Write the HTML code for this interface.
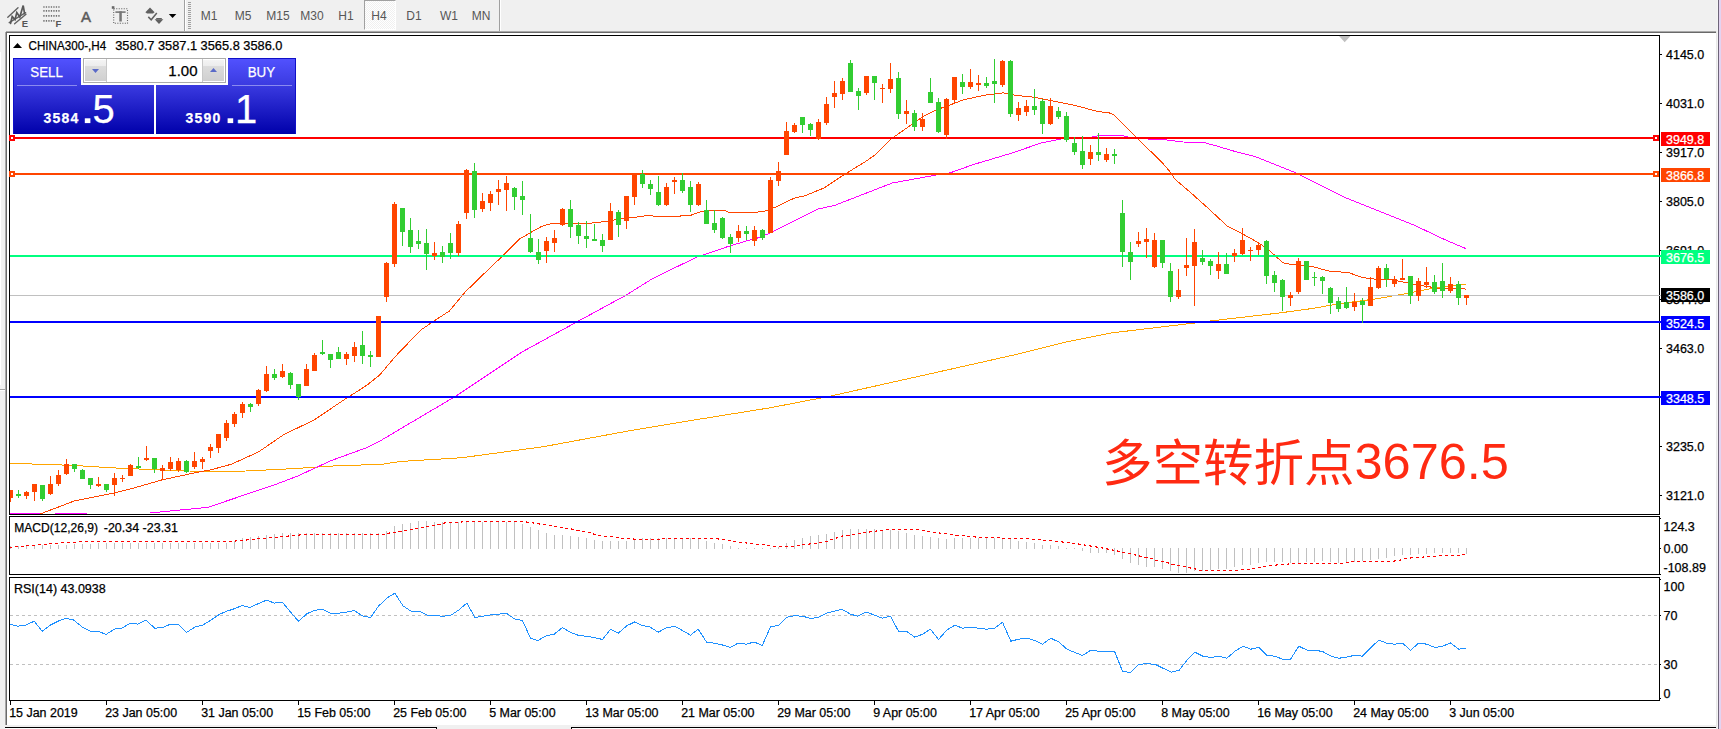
<!DOCTYPE html>
<html><head><meta charset="utf-8"><title>CHINA300-,H4</title>
<style>
html,body{margin:0;padding:0;background:#fff;}
body{width:1721px;height:729px;overflow:hidden;position:relative;font-family:"Liberation Sans","Noto Sans CJK SC",sans-serif;}
svg{position:absolute;left:0;top:0;}
svg text{font-family:"Liberation Sans","Noto Sans CJK SC",sans-serif;}
#tb{position:absolute;left:0;top:0;width:1721px;height:31px;background:#f0f0f0;}
.tf{position:absolute;top:7.9px;font-size:12px;color:#565656;width:40px;text-align:center;line-height:16px;}
#note{position:absolute;left:1102px;top:427.5px;font-size:50.5px;line-height:72px;color:#ff2a12;white-space:nowrap;font-family:"Liberation Sans","Noto Sans CJK SC",sans-serif;}
</style></head>
<body>
<div id="tb"></div>
<div id="leftstrip" style="position:absolute;left:0;top:31px;width:6px;height:698px;background:#f0f0f0"></div>
<div style="position:absolute;left:0;top:52px;width:1px;height:333px;background:#fff"></div>
<div style="position:absolute;left:0;top:389px;width:5px;height:1px;background:#a0a0a0"></div>
<div style="position:absolute;left:0;top:390px;width:5px;height:1px;background:#fff"></div>
<!-- timeframe buttons -->
<div style="position:absolute;left:364px;top:0;width:32px;height:30px;background:repeating-conic-gradient(#ffffff 0% 25%, #f0f0f0 0% 50%) 0 0/2px 2px;border-left:1px solid #a0a0a0;border-top:1px solid #a0a0a0;box-sizing:border-box;border-right:1px solid #fff;border-bottom:1px solid #fff"></div>
<div class="tf" style="left:189px">M1</div>
<div class="tf" style="left:223px">M5</div>
<div class="tf" style="left:258px">M15</div>
<div class="tf" style="left:292px">M30</div>
<div class="tf" style="left:326px">H1</div>
<div class="tf" style="left:359px">H4</div>
<div class="tf" style="left:394px">D1</div>
<div class="tf" style="left:429px">W1</div>
<div class="tf" style="left:461px">MN</div>

<svg width="1721" height="729" viewBox="0 0 1721 729" shape-rendering="crispEdges">
<!-- toolbar bottom edge and window frame -->
<rect x="6" y="31" width="1711" height="1" fill="#a9a9a9"/>
<rect x="6" y="32" width="1711" height="1" fill="#696969"/>
<rect x="5" y="32" width="1" height="693" fill="#a8a8a8"/><rect x="6" y="32" width="1" height="693" fill="#6a6a6a"/>
<rect x="7" y="33" width="1709" height="692" fill="#fff"/>
<rect x="0" y="725" width="1717" height="2" fill="#f0f0f0"/>
<rect x="5" y="727" width="432" height="1" fill="#000"/>
<rect x="571" y="727" width="1146" height="1" fill="#000"/>
<rect x="5" y="728" width="432" height="1" fill="#fff"/>
<rect x="571" y="728" width="1146" height="1" fill="#fff"/>
<rect x="437" y="727" width="134" height="2" fill="#f0f0f0"/>
<rect x="436" y="727" width="1" height="2" fill="#000"/>
<rect x="571" y="727" width="1" height="2" fill="#000"/>
<!-- right window edge -->
<rect x="1716" y="0" width="1" height="729" fill="#e8e8e8"/>
<rect x="1717" y="0" width="1" height="729" fill="#f4f4f4"/>
<rect x="1718" y="0" width="1" height="729" fill="#6d6479"/>
<rect x="1719" y="0" width="2" height="729" fill="#e3d3f1"/>
<rect x="1716" y="0" width="1" height="31" fill="#f0f0f0"/>
<!-- toolbar separators -->
<rect x="184" y="0" width="1" height="31" fill="#a0a0a0"/>
<rect x="185" y="0" width="1" height="31" fill="#ffffff"/>
<rect x="499" y="0" width="1" height="31" fill="#a0a0a0"/>
<rect x="500" y="0" width="1" height="31" fill="#ffffff"/>
<g fill="#a0a0a0"><rect x="188" y="2" width="3" height="1"/><rect x="188" y="4" width="3" height="1"/><rect x="188" y="6" width="3" height="1"/><rect x="188" y="8" width="3" height="1"/><rect x="188" y="10" width="3" height="1"/><rect x="188" y="12" width="3" height="1"/><rect x="188" y="14" width="3" height="1"/><rect x="188" y="16" width="3" height="1"/><rect x="188" y="18" width="3" height="1"/><rect x="188" y="20" width="3" height="1"/><rect x="188" y="22" width="3" height="1"/><rect x="188" y="24" width="3" height="1"/><rect x="188" y="26" width="3" height="1"/><rect x="188" y="28" width="3" height="1"/></g>

<!-- toolbar icons -->
<g shape-rendering="auto" stroke="#606060" stroke-width="1.35" fill="none" stroke-linecap="round">
<line x1="7.8" y1="17.3" x2="18" y2="7.8"/>
<line x1="9.2" y1="22.6" x2="25.6" y2="12.6"/>
<line x1="14.6" y1="23.8" x2="26" y2="14.2"/>
<polyline points="10.6,23.4 12.2,16.6 15,19.6 16.8,12.6 19.8,17 23.2,5.6 24.6,13.6" stroke-width="1.7" stroke="#585858"/>
</g>
<text x="21.8" y="26.6" font-size="9.5" font-weight="bold" fill="#555">E</text>
<g shape-rendering="auto" stroke="#707070" stroke-width="1.6" stroke-dasharray="1.3 1.2" fill="none">
<line x1="43.3" y1="7" x2="60.4" y2="7"/>
<line x1="43.3" y1="10.9" x2="60.4" y2="10.9"/>
<line x1="43.3" y1="15.9" x2="60.4" y2="15.9"/>
<line x1="43.3" y1="20.9" x2="55.4" y2="20.9"/>
</g>
<text x="55.6" y="26.6" font-size="9.5" font-weight="bold" fill="#555">F</text>
<text x="86" y="21.7" font-size="15" fill="#5a5a5a" stroke="#5a5a5a" stroke-width="0.5" text-anchor="middle">A</text>
<g shape-rendering="auto">
<rect x="113.7" y="8.7" width="13.8" height="14.6" fill="none" stroke="#666" stroke-width="1.1" stroke-dasharray="1.1 1.4"/>
<rect x="111.8" y="6.2" width="2.6" height="2.6" fill="#666"/>
<rect x="115.4" y="11.3" width="10.2" height="1.6" fill="#777"/>
<rect x="119.3" y="11.3" width="2.5" height="10.2" fill="#777"/>
<polygon points="150,7.4 154.6,12.2 153,13.6 147,13.6 145.4,12.2" fill="#606060"/>
<polygon points="154.6,19.2 163.4,19.2 159,24" fill="#606060"/>
<polygon points="156.2,18 161.8,18 161.8,19.4 156.2,19.4" fill="#606060"/>
<polyline points="148.3,16.9 151.2,19.8 156.8,13" fill="none" stroke="#606060" stroke-width="1.5"/>
<polygon points="168.8,14 176.3,14 172.55,18.1" fill="#000"/>
</g>
<!-- horizontal levels -->
<!-- MAs -->
<g>
<polyline points="10.0,463.4 32.0,464.0 55.0,464.7 87.0,466.2 106.0,467.5 128.0,468.6 150.0,469.4 169.0,470.5 189.0,471.0 208.0,471.5 245.7,471.0 294.6,468.6 342.0,465.4 380.0,464.6 400.0,461.5 462.0,457.7 544.0,446.6 632.4,430.2 695.5,419.8 770.0,407.8 827.6,396.7 934.6,372.8 1016.9,354.3 1066.3,341.9 1111.6,332.9 1198.0,322.6 1214.4,320.5 1280.0,312.9 1311.5,308.6 1343.1,303.1 1374.6,299.1 1406.2,293.6 1437.7,287.3 1461.4,284.6 1466.1,284.5" fill="none" stroke="#FFA500" stroke-width="1" />
<polyline points="150.0,513.0 208.0,507.3 275.7,484.4 297.8,476.0 330.9,460.7 365.6,448.1 380.0,441.0 400.0,429.1 455.7,396.2 522.0,352.0 575.6,322.6 626.0,295.2 651.3,279.4 661.0,274.4 697.2,257.0 705.1,254.3 727.2,246.8 750.0,239.9 759.5,237.5 770.5,232.8 817.8,209.1 835.2,205.2 892.0,183.1 939.3,174.4 950.0,172.9 973.9,164.4 1011.0,153.3 1040.9,143.1 1061.5,138.8 1090.0,138.0 1093.8,136.4 1102.5,135.2 1118.2,135.2 1126.9,136.4 1130.0,138.0 1151.5,139.2 1167.3,140.0 1183.0,142.0 1203.5,142.4 1217.7,146.3 1233.5,151.0 1255.6,156.7 1296.7,173.2 1346.1,197.9 1387.3,214.4 1415.6,225.8 1445.6,240.0 1466.1,248.7" fill="none" stroke="#FF00FF" stroke-width="1" />
<polyline points="40.3,513.9 74.2,501.0 110.5,493.8 134.0,488.0 162.6,479.7 181.5,475.7 200.0,471.7 209.5,470.2 231.5,464.2 258.4,452.0 283.6,434.7 313.6,420.2 346.7,398.1 367.2,385.0 380.0,374.7 394.2,357.7 407.7,343.6 421.0,329.9 434.5,320.7 449.4,311.0 465.2,292.0 484.1,273.6 504.0,254.6 519.8,238.9 529.3,233.3 541.9,226.2 553.0,223.1 570.0,223.1 591.5,223.1 607.3,221.2 623.0,218.4 638.9,216.8 648.3,215.2 654.6,216.3 676.7,216.3 690.9,215.2 702.0,211.3 711.4,210.2 724.0,210.2 730.3,212.8 749.3,212.8 763.4,211.5 776.8,206.8 794.2,198.1 805.2,195.7 824.1,187.9 844.6,174.4 865.1,161.8 876.2,154.1 892.0,138.3 907.7,127.3 923.5,116.2 936.1,109.9 949.5,105.2 963.7,99.7 985.7,95.0 1003.1,92.9 1015.7,95.4 1034.6,97.3 1050.4,100.5 1074.1,105.2 1097.7,111.5 1110.3,113.1 1114.3,115.1 1126.1,127.3 1135.7,136.8 1162.5,162.9 1170.4,172.3 1175.1,179.4 1190.9,192.8 1206.7,207.0 1227.8,226.5 1242.0,233.6 1257.7,242.3 1267.2,248.6 1283.0,262.8 1289.5,264.1 1311.5,266.3 1330.5,271.5 1347.8,272.3 1362.0,277.5 1374.6,279.1 1390.4,279.4 1406.2,282.6 1422.0,285.7 1437.7,288.1 1453.5,288.1 1463.8,288.1 1466.1,289.7" fill="none" stroke="#FF4500" stroke-width="1" />
</g>
<rect x="10" y="513" width="30" height="1" fill="#FF00FF"/><rect x="55" y="513" width="32" height="1" fill="#FF00FF"/>
<rect x="10" y="295" width="1649" height="1" fill="#c0c0c0"/>
<rect x="10" y="137" width="1649" height="2" fill="#FF0000"/><rect x="10" y="173" width="1649" height="2" fill="#FF4500"/><rect x="10" y="255" width="1649" height="2" fill="#00FF7F"/><rect x="10" y="321" width="1649" height="2" fill="#0000FF"/><rect x="10" y="396" width="1649" height="2" fill="#0000FF"/>
<!-- candles -->
<rect x="10" y="490" width="1" height="12" fill="#FF4500"/><rect x="10" y="490" width="3" height="8" fill="#FF4500"/><rect x="18" y="490" width="1" height="8" fill="#32CD32"/><rect x="16" y="494" width="5" height="2" fill="#32CD32"/><rect x="26" y="491" width="1" height="8" fill="#FF4500"/><rect x="24" y="492" width="5" height="4" fill="#FF4500"/><rect x="34" y="484" width="1" height="17" fill="#FF4500"/><rect x="32" y="484" width="5" height="8" fill="#FF4500"/><rect x="42" y="485" width="1" height="16" fill="#32CD32"/><rect x="40" y="485" width="5" height="14" fill="#32CD32"/><rect x="50" y="476" width="1" height="19" fill="#FF4500"/><rect x="48" y="484" width="5" height="10" fill="#FF4500"/><rect x="58" y="470" width="1" height="16" fill="#FF4500"/><rect x="56" y="475" width="5" height="9" fill="#FF4500"/><rect x="66" y="459" width="1" height="16" fill="#FF4500"/><rect x="64" y="464" width="5" height="10" fill="#FF4500"/><rect x="74" y="464" width="1" height="8" fill="#32CD32"/><rect x="72" y="464" width="5" height="5" fill="#32CD32"/><rect x="82" y="469" width="1" height="10" fill="#32CD32"/><rect x="80" y="470" width="5" height="9" fill="#32CD32"/><rect x="90" y="478" width="1" height="11" fill="#32CD32"/><rect x="88" y="478" width="5" height="7" fill="#32CD32"/><rect x="98" y="477" width="1" height="10" fill="#FF4500"/><rect x="96" y="484" width="5" height="2" fill="#FF4500"/><rect x="106" y="484" width="1" height="8" fill="#32CD32"/><rect x="104" y="484" width="5" height="6" fill="#32CD32"/><rect x="114" y="473" width="1" height="23" fill="#FF4500"/><rect x="112" y="478" width="5" height="7" fill="#FF4500"/><rect x="122" y="475" width="1" height="7" fill="#FF4500"/><rect x="120" y="478" width="5" height="1" fill="#FF4500"/><rect x="130" y="464" width="1" height="12" fill="#FF4500"/><rect x="128" y="465" width="5" height="11" fill="#FF4500"/><rect x="138" y="457" width="1" height="12" fill="#32CD32"/><rect x="136" y="466" width="5" height="2" fill="#32CD32"/><rect x="146" y="446" width="1" height="15" fill="#FF4500"/><rect x="144" y="458" width="5" height="2" fill="#FF4500"/><rect x="154" y="458" width="1" height="15" fill="#32CD32"/><rect x="152" y="458" width="5" height="11" fill="#32CD32"/><rect x="162" y="465" width="1" height="15" fill="#FF4500"/><rect x="160" y="468" width="5" height="3" fill="#FF4500"/><rect x="170" y="457" width="1" height="14" fill="#FF4500"/><rect x="168" y="462" width="5" height="7" fill="#FF4500"/><rect x="178" y="458" width="1" height="14" fill="#FF4500"/><rect x="176" y="461" width="5" height="9" fill="#FF4500"/><rect x="186" y="460" width="1" height="13" fill="#32CD32"/><rect x="184" y="461" width="5" height="11" fill="#32CD32"/><rect x="194" y="452" width="1" height="17" fill="#FF4500"/><rect x="192" y="461" width="5" height="6" fill="#FF4500"/><rect x="202" y="457" width="1" height="12" fill="#FF4500"/><rect x="200" y="459" width="5" height="3" fill="#FF4500"/><rect x="210" y="444" width="1" height="14" fill="#FF4500"/><rect x="208" y="447" width="5" height="4" fill="#FF4500"/><rect x="218" y="434" width="1" height="19" fill="#FF4500"/><rect x="216" y="434" width="5" height="14" fill="#FF4500"/><rect x="226" y="420" width="1" height="21" fill="#FF4500"/><rect x="224" y="423" width="5" height="15" fill="#FF4500"/><rect x="234" y="412" width="1" height="15" fill="#FF4500"/><rect x="232" y="414" width="5" height="10" fill="#FF4500"/><rect x="242" y="402" width="1" height="16" fill="#FF4500"/><rect x="240" y="404" width="5" height="9" fill="#FF4500"/><rect x="250" y="403" width="1" height="9" fill="#32CD32"/><rect x="248" y="404" width="5" height="3" fill="#32CD32"/><rect x="258" y="389" width="1" height="17" fill="#FF4500"/><rect x="256" y="390" width="5" height="14" fill="#FF4500"/><rect x="266" y="366" width="1" height="26" fill="#FF4500"/><rect x="264" y="374" width="5" height="17" fill="#FF4500"/><rect x="274" y="369" width="1" height="11" fill="#32CD32"/><rect x="272" y="374" width="5" height="4" fill="#32CD32"/><rect x="282" y="364" width="1" height="14" fill="#FF4500"/><rect x="280" y="371" width="5" height="6" fill="#FF4500"/><rect x="290" y="372" width="1" height="17" fill="#32CD32"/><rect x="288" y="373" width="5" height="12" fill="#32CD32"/><rect x="298" y="384" width="1" height="16" fill="#32CD32"/><rect x="296" y="384" width="5" height="13" fill="#32CD32"/><rect x="306" y="364" width="1" height="22" fill="#FF4500"/><rect x="304" y="369" width="5" height="17" fill="#FF4500"/><rect x="314" y="353" width="1" height="18" fill="#FF4500"/><rect x="312" y="355" width="5" height="16" fill="#FF4500"/><rect x="322" y="340" width="1" height="15" fill="#32CD32"/><rect x="320" y="352" width="5" height="2" fill="#32CD32"/><rect x="330" y="354" width="1" height="14" fill="#32CD32"/><rect x="328" y="354" width="5" height="6" fill="#32CD32"/><rect x="338" y="347" width="1" height="12" fill="#32CD32"/><rect x="336" y="352" width="5" height="7" fill="#32CD32"/><rect x="346" y="352" width="1" height="13" fill="#FF4500"/><rect x="344" y="354" width="5" height="5" fill="#FF4500"/><rect x="354" y="342" width="1" height="20" fill="#FF4500"/><rect x="352" y="347" width="5" height="9" fill="#FF4500"/><rect x="362" y="331" width="1" height="33" fill="#32CD32"/><rect x="360" y="345" width="5" height="11" fill="#32CD32"/><rect x="370" y="351" width="1" height="16" fill="#32CD32"/><rect x="368" y="355" width="5" height="2" fill="#32CD32"/><rect x="378" y="316" width="1" height="41" fill="#FF4500"/><rect x="376" y="316" width="5" height="41" fill="#FF4500"/><rect x="386" y="262" width="1" height="40" fill="#FF4500"/><rect x="384" y="263" width="5" height="34" fill="#FF4500"/><rect x="394" y="202" width="1" height="65" fill="#FF4500"/><rect x="392" y="204" width="5" height="60" fill="#FF4500"/><rect x="402" y="208" width="1" height="38" fill="#32CD32"/><rect x="400" y="208" width="5" height="24" fill="#32CD32"/><rect x="410" y="218" width="1" height="35" fill="#32CD32"/><rect x="408" y="230" width="5" height="17" fill="#32CD32"/><rect x="418" y="230" width="1" height="19" fill="#32CD32"/><rect x="416" y="241" width="5" height="3" fill="#32CD32"/><rect x="426" y="229" width="1" height="41" fill="#32CD32"/><rect x="424" y="243" width="5" height="11" fill="#32CD32"/><rect x="434" y="242" width="1" height="18" fill="#FF4500"/><rect x="432" y="253" width="5" height="3" fill="#FF4500"/><rect x="442" y="246" width="1" height="17" fill="#32CD32"/><rect x="440" y="252" width="5" height="5" fill="#32CD32"/><rect x="450" y="233" width="1" height="26" fill="#32CD32"/><rect x="448" y="243" width="5" height="10" fill="#32CD32"/><rect x="458" y="221" width="1" height="35" fill="#FF4500"/><rect x="456" y="224" width="5" height="29" fill="#FF4500"/><rect x="466" y="169" width="1" height="50" fill="#FF4500"/><rect x="464" y="170" width="5" height="43" fill="#FF4500"/><rect x="474" y="163" width="1" height="55" fill="#32CD32"/><rect x="472" y="171" width="5" height="39" fill="#32CD32"/><rect x="482" y="193" width="1" height="19" fill="#FF4500"/><rect x="480" y="201" width="5" height="8" fill="#FF4500"/><rect x="490" y="191" width="1" height="20" fill="#FF4500"/><rect x="488" y="194" width="5" height="9" fill="#FF4500"/><rect x="498" y="180" width="1" height="25" fill="#FF4500"/><rect x="496" y="189" width="5" height="3" fill="#FF4500"/><rect x="506" y="176" width="1" height="35" fill="#FF4500"/><rect x="504" y="183" width="5" height="7" fill="#FF4500"/><rect x="514" y="187" width="1" height="23" fill="#32CD32"/><rect x="512" y="188" width="5" height="9" fill="#32CD32"/><rect x="522" y="181" width="1" height="34" fill="#32CD32"/><rect x="520" y="196" width="5" height="4" fill="#32CD32"/><rect x="530" y="214" width="1" height="39" fill="#32CD32"/><rect x="528" y="238" width="5" height="14" fill="#32CD32"/><rect x="538" y="239" width="1" height="25" fill="#32CD32"/><rect x="536" y="252" width="5" height="8" fill="#32CD32"/><rect x="546" y="237" width="1" height="26" fill="#FF4500"/><rect x="544" y="241" width="5" height="10" fill="#FF4500"/><rect x="554" y="230" width="1" height="22" fill="#FF4500"/><rect x="552" y="238" width="5" height="5" fill="#FF4500"/><rect x="562" y="208" width="1" height="18" fill="#FF4500"/><rect x="560" y="209" width="5" height="16" fill="#FF4500"/><rect x="570" y="200" width="1" height="38" fill="#32CD32"/><rect x="568" y="209" width="5" height="18" fill="#32CD32"/><rect x="578" y="222" width="1" height="22" fill="#32CD32"/><rect x="576" y="225" width="5" height="11" fill="#32CD32"/><rect x="586" y="221" width="1" height="27" fill="#32CD32"/><rect x="584" y="236" width="5" height="3" fill="#32CD32"/><rect x="594" y="224" width="1" height="17" fill="#32CD32"/><rect x="592" y="239" width="5" height="2" fill="#32CD32"/><rect x="602" y="234" width="1" height="18" fill="#32CD32"/><rect x="600" y="240" width="5" height="6" fill="#32CD32"/><rect x="610" y="203" width="1" height="37" fill="#FF4500"/><rect x="608" y="211" width="5" height="29" fill="#FF4500"/><rect x="618" y="210" width="1" height="27" fill="#32CD32"/><rect x="616" y="212" width="5" height="13" fill="#32CD32"/><rect x="626" y="196" width="1" height="33" fill="#FF4500"/><rect x="624" y="196" width="5" height="25" fill="#FF4500"/><rect x="634" y="174" width="1" height="31" fill="#FF4500"/><rect x="632" y="174" width="5" height="23" fill="#FF4500"/><rect x="642" y="170" width="1" height="18" fill="#32CD32"/><rect x="640" y="174" width="5" height="10" fill="#32CD32"/><rect x="650" y="180" width="1" height="15" fill="#32CD32"/><rect x="648" y="184" width="5" height="5" fill="#32CD32"/><rect x="658" y="176" width="1" height="30" fill="#32CD32"/><rect x="656" y="192" width="5" height="13" fill="#32CD32"/><rect x="666" y="183" width="1" height="23" fill="#FF4500"/><rect x="664" y="187" width="5" height="18" fill="#FF4500"/><rect x="674" y="177" width="1" height="17" fill="#FF4500"/><rect x="672" y="180" width="5" height="2" fill="#FF4500"/><rect x="682" y="173" width="1" height="20" fill="#32CD32"/><rect x="680" y="180" width="5" height="11" fill="#32CD32"/><rect x="690" y="181" width="1" height="31" fill="#32CD32"/><rect x="688" y="187" width="5" height="18" fill="#32CD32"/><rect x="698" y="182" width="1" height="24" fill="#FF4500"/><rect x="696" y="184" width="5" height="21" fill="#FF4500"/><rect x="706" y="200" width="1" height="24" fill="#32CD32"/><rect x="704" y="210" width="5" height="14" fill="#32CD32"/><rect x="714" y="210" width="1" height="23" fill="#32CD32"/><rect x="712" y="223" width="5" height="7" fill="#32CD32"/><rect x="722" y="217" width="1" height="22" fill="#32CD32"/><rect x="720" y="218" width="5" height="20" fill="#32CD32"/><rect x="730" y="234" width="1" height="19" fill="#32CD32"/><rect x="728" y="237" width="5" height="7" fill="#32CD32"/><rect x="738" y="225" width="1" height="17" fill="#FF4500"/><rect x="736" y="231" width="5" height="7" fill="#FF4500"/><rect x="746" y="226" width="1" height="14" fill="#32CD32"/><rect x="744" y="231" width="5" height="3" fill="#32CD32"/><rect x="754" y="226" width="1" height="20" fill="#FF4500"/><rect x="752" y="230" width="5" height="11" fill="#FF4500"/><rect x="762" y="229" width="1" height="11" fill="#32CD32"/><rect x="760" y="230" width="5" height="8" fill="#32CD32"/><rect x="770" y="177" width="1" height="56" fill="#FF4500"/><rect x="768" y="180" width="5" height="53" fill="#FF4500"/><rect x="778" y="162" width="1" height="24" fill="#FF4500"/><rect x="776" y="171" width="5" height="10" fill="#FF4500"/><rect x="786" y="122" width="1" height="33" fill="#FF4500"/><rect x="784" y="131" width="5" height="24" fill="#FF4500"/><rect x="794" y="123" width="1" height="10" fill="#FF4500"/><rect x="792" y="125" width="5" height="7" fill="#FF4500"/><rect x="802" y="117" width="1" height="16" fill="#32CD32"/><rect x="800" y="117" width="5" height="8" fill="#32CD32"/><rect x="810" y="123" width="1" height="13" fill="#32CD32"/><rect x="808" y="124" width="5" height="6" fill="#32CD32"/><rect x="818" y="119" width="1" height="21" fill="#FF4500"/><rect x="816" y="122" width="5" height="17" fill="#FF4500"/><rect x="826" y="97" width="1" height="28" fill="#FF4500"/><rect x="824" y="104" width="5" height="19" fill="#FF4500"/><rect x="834" y="81" width="1" height="27" fill="#FF4500"/><rect x="832" y="93" width="5" height="4" fill="#FF4500"/><rect x="842" y="78" width="1" height="22" fill="#FF4500"/><rect x="840" y="81" width="5" height="13" fill="#FF4500"/><rect x="850" y="60" width="1" height="32" fill="#32CD32"/><rect x="848" y="63" width="5" height="29" fill="#32CD32"/><rect x="858" y="88" width="1" height="22" fill="#32CD32"/><rect x="856" y="91" width="5" height="5" fill="#32CD32"/><rect x="866" y="76" width="1" height="19" fill="#FF4500"/><rect x="864" y="76" width="5" height="17" fill="#FF4500"/><rect x="874" y="76" width="1" height="24" fill="#32CD32"/><rect x="872" y="76" width="5" height="7" fill="#32CD32"/><rect x="882" y="84" width="1" height="19" fill="#FF4500"/><rect x="880" y="88" width="5" height="1" fill="#FF4500"/><rect x="890" y="63" width="1" height="30" fill="#FF4500"/><rect x="888" y="79" width="5" height="10" fill="#FF4500"/><rect x="898" y="72" width="1" height="47" fill="#32CD32"/><rect x="896" y="78" width="5" height="36" fill="#32CD32"/><rect x="906" y="100" width="1" height="24" fill="#FF4500"/><rect x="904" y="111" width="5" height="3" fill="#FF4500"/><rect x="914" y="110" width="1" height="21" fill="#32CD32"/><rect x="912" y="113" width="5" height="14" fill="#32CD32"/><rect x="922" y="113" width="1" height="18" fill="#FF4500"/><rect x="920" y="119" width="5" height="8" fill="#FF4500"/><rect x="930" y="78" width="1" height="25" fill="#32CD32"/><rect x="928" y="92" width="5" height="11" fill="#32CD32"/><rect x="938" y="98" width="1" height="35" fill="#32CD32"/><rect x="936" y="102" width="5" height="30" fill="#32CD32"/><rect x="946" y="98" width="1" height="41" fill="#FF4500"/><rect x="944" y="99" width="5" height="36" fill="#FF4500"/><rect x="954" y="77" width="1" height="26" fill="#FF4500"/><rect x="952" y="77" width="5" height="23" fill="#FF4500"/><rect x="962" y="74" width="1" height="20" fill="#32CD32"/><rect x="960" y="82" width="5" height="5" fill="#32CD32"/><rect x="970" y="69" width="1" height="20" fill="#FF4500"/><rect x="968" y="82" width="5" height="5" fill="#FF4500"/><rect x="978" y="75" width="1" height="16" fill="#FF4500"/><rect x="976" y="83" width="5" height="2" fill="#FF4500"/><rect x="986" y="77" width="1" height="11" fill="#32CD32"/><rect x="984" y="83" width="5" height="3" fill="#32CD32"/><rect x="994" y="59" width="1" height="44" fill="#32CD32"/><rect x="992" y="81" width="5" height="3" fill="#32CD32"/><rect x="1002" y="60" width="1" height="27" fill="#FF4500"/><rect x="1000" y="61" width="5" height="24" fill="#FF4500"/><rect x="1010" y="60" width="1" height="57" fill="#32CD32"/><rect x="1008" y="61" width="5" height="53" fill="#32CD32"/><rect x="1018" y="102" width="1" height="19" fill="#FF4500"/><rect x="1016" y="108" width="5" height="7" fill="#FF4500"/><rect x="1026" y="100" width="1" height="16" fill="#FF4500"/><rect x="1024" y="106" width="5" height="6" fill="#FF4500"/><rect x="1034" y="89" width="1" height="26" fill="#32CD32"/><rect x="1032" y="106" width="5" height="4" fill="#32CD32"/><rect x="1042" y="99" width="1" height="35" fill="#32CD32"/><rect x="1040" y="101" width="5" height="23" fill="#32CD32"/><rect x="1050" y="98" width="1" height="27" fill="#FF4500"/><rect x="1048" y="106" width="5" height="18" fill="#FF4500"/><rect x="1058" y="107" width="1" height="12" fill="#32CD32"/><rect x="1056" y="111" width="5" height="6" fill="#32CD32"/><rect x="1066" y="112" width="1" height="30" fill="#32CD32"/><rect x="1064" y="116" width="5" height="24" fill="#32CD32"/><rect x="1074" y="137" width="1" height="18" fill="#32CD32"/><rect x="1072" y="143" width="5" height="9" fill="#32CD32"/><rect x="1082" y="136" width="1" height="33" fill="#32CD32"/><rect x="1080" y="151" width="5" height="14" fill="#32CD32"/><rect x="1090" y="145" width="1" height="20" fill="#FF4500"/><rect x="1088" y="152" width="5" height="7" fill="#FF4500"/><rect x="1098" y="133" width="1" height="28" fill="#32CD32"/><rect x="1096" y="152" width="5" height="3" fill="#32CD32"/><rect x="1106" y="148" width="1" height="14" fill="#FF4500"/><rect x="1104" y="154" width="5" height="6" fill="#FF4500"/><rect x="1114" y="149" width="1" height="15" fill="#32CD32"/><rect x="1112" y="154" width="5" height="2" fill="#32CD32"/><rect x="1122" y="200" width="1" height="67" fill="#32CD32"/><rect x="1120" y="213" width="5" height="39" fill="#32CD32"/><rect x="1130" y="242" width="1" height="38" fill="#32CD32"/><rect x="1128" y="252" width="5" height="10" fill="#32CD32"/><rect x="1138" y="232" width="1" height="15" fill="#FF4500"/><rect x="1136" y="241" width="5" height="3" fill="#FF4500"/><rect x="1146" y="228" width="1" height="30" fill="#FF4500"/><rect x="1144" y="239" width="5" height="3" fill="#FF4500"/><rect x="1154" y="233" width="1" height="35" fill="#FF4500"/><rect x="1152" y="240" width="5" height="27" fill="#FF4500"/><rect x="1162" y="240" width="1" height="28" fill="#32CD32"/><rect x="1160" y="240" width="5" height="23" fill="#32CD32"/><rect x="1170" y="263" width="1" height="39" fill="#32CD32"/><rect x="1168" y="271" width="5" height="26" fill="#32CD32"/><rect x="1178" y="269" width="1" height="30" fill="#FF4500"/><rect x="1176" y="290" width="5" height="7" fill="#FF4500"/><rect x="1186" y="238" width="1" height="38" fill="#FF4500"/><rect x="1184" y="265" width="5" height="3" fill="#FF4500"/><rect x="1194" y="229" width="1" height="77" fill="#FF4500"/><rect x="1192" y="242" width="5" height="24" fill="#FF4500"/><rect x="1202" y="250" width="1" height="15" fill="#32CD32"/><rect x="1200" y="258" width="5" height="4" fill="#32CD32"/><rect x="1210" y="259" width="1" height="16" fill="#32CD32"/><rect x="1208" y="261" width="5" height="5" fill="#32CD32"/><rect x="1218" y="252" width="1" height="27" fill="#FF4500"/><rect x="1216" y="264" width="5" height="7" fill="#FF4500"/><rect x="1226" y="253" width="1" height="21" fill="#32CD32"/><rect x="1224" y="264" width="5" height="10" fill="#32CD32"/><rect x="1234" y="249" width="1" height="13" fill="#FF4500"/><rect x="1232" y="253" width="5" height="3" fill="#FF4500"/><rect x="1242" y="228" width="1" height="27" fill="#FF4500"/><rect x="1240" y="240" width="5" height="14" fill="#FF4500"/><rect x="1250" y="247" width="1" height="14" fill="#FF4500"/><rect x="1248" y="250" width="5" height="1" fill="#FF4500"/><rect x="1258" y="242" width="1" height="13" fill="#FF4500"/><rect x="1256" y="245" width="5" height="5" fill="#FF4500"/><rect x="1266" y="240" width="1" height="44" fill="#32CD32"/><rect x="1264" y="241" width="5" height="35" fill="#32CD32"/><rect x="1274" y="271" width="1" height="21" fill="#32CD32"/><rect x="1272" y="275" width="5" height="8" fill="#32CD32"/><rect x="1282" y="279" width="1" height="32" fill="#32CD32"/><rect x="1280" y="280" width="5" height="17" fill="#32CD32"/><rect x="1290" y="292" width="1" height="14" fill="#FF4500"/><rect x="1288" y="295" width="5" height="3" fill="#FF4500"/><rect x="1298" y="258" width="1" height="36" fill="#FF4500"/><rect x="1296" y="261" width="5" height="31" fill="#FF4500"/><rect x="1306" y="261" width="1" height="19" fill="#32CD32"/><rect x="1304" y="261" width="5" height="19" fill="#32CD32"/><rect x="1314" y="272" width="1" height="14" fill="#32CD32"/><rect x="1312" y="277" width="5" height="1" fill="#32CD32"/><rect x="1322" y="276" width="1" height="18" fill="#32CD32"/><rect x="1320" y="277" width="5" height="4" fill="#32CD32"/><rect x="1330" y="287" width="1" height="27" fill="#32CD32"/><rect x="1328" y="288" width="5" height="15" fill="#32CD32"/><rect x="1338" y="297" width="1" height="15" fill="#32CD32"/><rect x="1336" y="301" width="5" height="8" fill="#32CD32"/><rect x="1346" y="287" width="1" height="22" fill="#32CD32"/><rect x="1344" y="302" width="5" height="6" fill="#32CD32"/><rect x="1354" y="293" width="1" height="18" fill="#FF4500"/><rect x="1352" y="302" width="5" height="5" fill="#FF4500"/><rect x="1362" y="298" width="1" height="25" fill="#32CD32"/><rect x="1360" y="301" width="5" height="4" fill="#32CD32"/><rect x="1370" y="277" width="1" height="29" fill="#FF4500"/><rect x="1368" y="287" width="5" height="19" fill="#FF4500"/><rect x="1378" y="266" width="1" height="23" fill="#FF4500"/><rect x="1376" y="268" width="5" height="20" fill="#FF4500"/><rect x="1386" y="264" width="1" height="23" fill="#32CD32"/><rect x="1384" y="268" width="5" height="11" fill="#32CD32"/><rect x="1394" y="276" width="1" height="11" fill="#FF4500"/><rect x="1392" y="279" width="5" height="5" fill="#FF4500"/><rect x="1402" y="259" width="1" height="21" fill="#FF4500"/><rect x="1400" y="278" width="5" height="2" fill="#FF4500"/><rect x="1410" y="276" width="1" height="28" fill="#32CD32"/><rect x="1408" y="276" width="5" height="20" fill="#32CD32"/><rect x="1418" y="278" width="1" height="23" fill="#FF4500"/><rect x="1416" y="281" width="5" height="15" fill="#FF4500"/><rect x="1426" y="267" width="1" height="21" fill="#FF4500"/><rect x="1424" y="282" width="5" height="3" fill="#FF4500"/><rect x="1434" y="275" width="1" height="19" fill="#32CD32"/><rect x="1432" y="282" width="5" height="10" fill="#32CD32"/><rect x="1442" y="263" width="1" height="35" fill="#32CD32"/><rect x="1440" y="281" width="5" height="10" fill="#32CD32"/><rect x="1450" y="277" width="1" height="16" fill="#FF4500"/><rect x="1448" y="284" width="5" height="7" fill="#FF4500"/><rect x="1458" y="281" width="1" height="24" fill="#32CD32"/><rect x="1456" y="284" width="5" height="14" fill="#32CD32"/><rect x="1466" y="295" width="1" height="10" fill="#FF4500"/><rect x="1464" y="295" width="5" height="3" fill="#FF4500"/>
<!-- MACD -->
<rect x="10" y="546" width="1" height="3" fill="#c0c0c0"/><rect x="18" y="546" width="1" height="3" fill="#c0c0c0"/><rect x="26" y="546" width="1" height="3" fill="#c0c0c0"/><rect x="34" y="545" width="1" height="4" fill="#c0c0c0"/><rect x="42" y="545" width="1" height="4" fill="#c0c0c0"/><rect x="50" y="545" width="1" height="4" fill="#c0c0c0"/><rect x="58" y="545" width="1" height="4" fill="#c0c0c0"/><rect x="66" y="545" width="1" height="4" fill="#c0c0c0"/><rect x="74" y="544" width="1" height="5" fill="#c0c0c0"/><rect x="82" y="544" width="1" height="5" fill="#c0c0c0"/><rect x="90" y="544" width="1" height="5" fill="#c0c0c0"/><rect x="98" y="543" width="1" height="6" fill="#c0c0c0"/><rect x="106" y="543" width="1" height="6" fill="#c0c0c0"/><rect x="114" y="543" width="1" height="6" fill="#c0c0c0"/><rect x="122" y="543" width="1" height="6" fill="#c0c0c0"/><rect x="130" y="543" width="1" height="6" fill="#c0c0c0"/><rect x="138" y="543" width="1" height="6" fill="#c0c0c0"/><rect x="146" y="543" width="1" height="6" fill="#c0c0c0"/><rect x="154" y="543" width="1" height="6" fill="#c0c0c0"/><rect x="162" y="543" width="1" height="6" fill="#c0c0c0"/><rect x="170" y="543" width="1" height="6" fill="#c0c0c0"/><rect x="178" y="543" width="1" height="6" fill="#c0c0c0"/><rect x="186" y="543" width="1" height="6" fill="#c0c0c0"/><rect x="194" y="543" width="1" height="6" fill="#c0c0c0"/><rect x="202" y="543" width="1" height="6" fill="#c0c0c0"/><rect x="210" y="543" width="1" height="6" fill="#c0c0c0"/><rect x="218" y="543" width="1" height="6" fill="#c0c0c0"/><rect x="226" y="543" width="1" height="6" fill="#c0c0c0"/><rect x="234" y="541" width="1" height="8" fill="#c0c0c0"/><rect x="242" y="538" width="1" height="11" fill="#c0c0c0"/><rect x="250" y="537" width="1" height="12" fill="#c0c0c0"/><rect x="258" y="536" width="1" height="13" fill="#c0c0c0"/><rect x="266" y="535" width="1" height="14" fill="#c0c0c0"/><rect x="274" y="534" width="1" height="15" fill="#c0c0c0"/><rect x="282" y="533" width="1" height="16" fill="#c0c0c0"/><rect x="290" y="533" width="1" height="16" fill="#c0c0c0"/><rect x="298" y="533" width="1" height="16" fill="#c0c0c0"/><rect x="306" y="533" width="1" height="16" fill="#c0c0c0"/><rect x="314" y="533" width="1" height="16" fill="#c0c0c0"/><rect x="322" y="533" width="1" height="16" fill="#c0c0c0"/><rect x="330" y="533" width="1" height="16" fill="#c0c0c0"/><rect x="338" y="533" width="1" height="16" fill="#c0c0c0"/><rect x="346" y="533" width="1" height="16" fill="#c0c0c0"/><rect x="354" y="533" width="1" height="16" fill="#c0c0c0"/><rect x="362" y="533" width="1" height="16" fill="#c0c0c0"/><rect x="370" y="533" width="1" height="16" fill="#c0c0c0"/><rect x="378" y="533" width="1" height="16" fill="#c0c0c0"/><rect x="386" y="531" width="1" height="18" fill="#c0c0c0"/><rect x="394" y="526" width="1" height="23" fill="#c0c0c0"/><rect x="402" y="524" width="1" height="25" fill="#c0c0c0"/><rect x="410" y="523" width="1" height="26" fill="#c0c0c0"/><rect x="418" y="521" width="1" height="28" fill="#c0c0c0"/><rect x="426" y="521" width="1" height="28" fill="#c0c0c0"/><rect x="434" y="522" width="1" height="27" fill="#c0c0c0"/><rect x="442" y="522" width="1" height="27" fill="#c0c0c0"/><rect x="450" y="522" width="1" height="27" fill="#c0c0c0"/><rect x="458" y="522" width="1" height="27" fill="#c0c0c0"/><rect x="466" y="522" width="1" height="27" fill="#c0c0c0"/><rect x="474" y="522" width="1" height="27" fill="#c0c0c0"/><rect x="482" y="522" width="1" height="27" fill="#c0c0c0"/><rect x="490" y="522" width="1" height="27" fill="#c0c0c0"/><rect x="498" y="522" width="1" height="27" fill="#c0c0c0"/><rect x="506" y="522" width="1" height="27" fill="#c0c0c0"/><rect x="514" y="522" width="1" height="27" fill="#c0c0c0"/><rect x="522" y="524" width="1" height="25" fill="#c0c0c0"/><rect x="530" y="527" width="1" height="22" fill="#c0c0c0"/><rect x="538" y="530" width="1" height="19" fill="#c0c0c0"/><rect x="546" y="533" width="1" height="16" fill="#c0c0c0"/><rect x="554" y="535" width="1" height="14" fill="#c0c0c0"/><rect x="562" y="535" width="1" height="14" fill="#c0c0c0"/><rect x="570" y="536" width="1" height="13" fill="#c0c0c0"/><rect x="578" y="537" width="1" height="12" fill="#c0c0c0"/><rect x="586" y="538" width="1" height="11" fill="#c0c0c0"/><rect x="594" y="540" width="1" height="9" fill="#c0c0c0"/><rect x="602" y="541" width="1" height="8" fill="#c0c0c0"/><rect x="610" y="541" width="1" height="8" fill="#c0c0c0"/><rect x="618" y="541" width="1" height="8" fill="#c0c0c0"/><rect x="626" y="541" width="1" height="8" fill="#c0c0c0"/><rect x="634" y="539" width="1" height="10" fill="#c0c0c0"/><rect x="642" y="538" width="1" height="11" fill="#c0c0c0"/><rect x="650" y="538" width="1" height="11" fill="#c0c0c0"/><rect x="658" y="538" width="1" height="11" fill="#c0c0c0"/><rect x="666" y="538" width="1" height="11" fill="#c0c0c0"/><rect x="674" y="538" width="1" height="11" fill="#c0c0c0"/><rect x="682" y="538" width="1" height="11" fill="#c0c0c0"/><rect x="690" y="538" width="1" height="11" fill="#c0c0c0"/><rect x="698" y="538" width="1" height="11" fill="#c0c0c0"/><rect x="706" y="541" width="1" height="8" fill="#c0c0c0"/><rect x="714" y="543" width="1" height="6" fill="#c0c0c0"/><rect x="722" y="544" width="1" height="5" fill="#c0c0c0"/><rect x="730" y="546" width="1" height="3" fill="#c0c0c0"/><rect x="738" y="548" width="1" height="1" fill="#c0c0c0"/><rect x="746" y="548" width="1" height="1" fill="#c0c0c0"/><rect x="754" y="548" width="1" height="1" fill="#c0c0c0"/><rect x="762" y="548" width="1" height="1" fill="#c0c0c0"/><rect x="770" y="548" width="1" height="1" fill="#c0c0c0"/><rect x="778" y="547" width="1" height="2" fill="#c0c0c0"/><rect x="786" y="543" width="1" height="6" fill="#c0c0c0"/><rect x="794" y="540" width="1" height="9" fill="#c0c0c0"/><rect x="802" y="538" width="1" height="11" fill="#c0c0c0"/><rect x="810" y="536" width="1" height="13" fill="#c0c0c0"/><rect x="818" y="535" width="1" height="14" fill="#c0c0c0"/><rect x="826" y="534" width="1" height="15" fill="#c0c0c0"/><rect x="834" y="532" width="1" height="17" fill="#c0c0c0"/><rect x="842" y="530" width="1" height="19" fill="#c0c0c0"/><rect x="850" y="529" width="1" height="20" fill="#c0c0c0"/><rect x="858" y="529" width="1" height="20" fill="#c0c0c0"/><rect x="866" y="529" width="1" height="20" fill="#c0c0c0"/><rect x="874" y="529" width="1" height="20" fill="#c0c0c0"/><rect x="882" y="530" width="1" height="19" fill="#c0c0c0"/><rect x="890" y="530" width="1" height="19" fill="#c0c0c0"/><rect x="898" y="531" width="1" height="18" fill="#c0c0c0"/><rect x="906" y="533" width="1" height="16" fill="#c0c0c0"/><rect x="914" y="535" width="1" height="14" fill="#c0c0c0"/><rect x="922" y="536" width="1" height="13" fill="#c0c0c0"/><rect x="930" y="537" width="1" height="12" fill="#c0c0c0"/><rect x="938" y="538" width="1" height="11" fill="#c0c0c0"/><rect x="946" y="539" width="1" height="10" fill="#c0c0c0"/><rect x="954" y="538" width="1" height="11" fill="#c0c0c0"/><rect x="962" y="538" width="1" height="11" fill="#c0c0c0"/><rect x="970" y="538" width="1" height="11" fill="#c0c0c0"/><rect x="978" y="538" width="1" height="11" fill="#c0c0c0"/><rect x="986" y="538" width="1" height="11" fill="#c0c0c0"/><rect x="994" y="538" width="1" height="11" fill="#c0c0c0"/><rect x="1002" y="538" width="1" height="11" fill="#c0c0c0"/><rect x="1010" y="539" width="1" height="10" fill="#c0c0c0"/><rect x="1018" y="541" width="1" height="8" fill="#c0c0c0"/><rect x="1026" y="542" width="1" height="7" fill="#c0c0c0"/><rect x="1034" y="543" width="1" height="6" fill="#c0c0c0"/><rect x="1042" y="545" width="1" height="4" fill="#c0c0c0"/><rect x="1050" y="545" width="1" height="4" fill="#c0c0c0"/><rect x="1058" y="546" width="1" height="3" fill="#c0c0c0"/><rect x="1066" y="548" width="1" height="1" fill="#c0c0c0"/><rect x="1074" y="548" width="1" height="1" fill="#c0c0c0"/><rect x="1082" y="548" width="1" height="3" fill="#c0c0c0"/><rect x="1090" y="548" width="1" height="5" fill="#c0c0c0"/><rect x="1098" y="548" width="1" height="5" fill="#c0c0c0"/><rect x="1106" y="548" width="1" height="5" fill="#c0c0c0"/><rect x="1114" y="548" width="1" height="7" fill="#c0c0c0"/><rect x="1122" y="548" width="1" height="11" fill="#c0c0c0"/><rect x="1130" y="548" width="1" height="15" fill="#c0c0c0"/><rect x="1138" y="548" width="1" height="17" fill="#c0c0c0"/><rect x="1146" y="548" width="1" height="19" fill="#c0c0c0"/><rect x="1154" y="548" width="1" height="19" fill="#c0c0c0"/><rect x="1162" y="548" width="1" height="21" fill="#c0c0c0"/><rect x="1170" y="548" width="1" height="23" fill="#c0c0c0"/><rect x="1178" y="548" width="1" height="25" fill="#c0c0c0"/><rect x="1186" y="548" width="1" height="25" fill="#c0c0c0"/><rect x="1194" y="548" width="1" height="23" fill="#c0c0c0"/><rect x="1202" y="548" width="1" height="23" fill="#c0c0c0"/><rect x="1210" y="548" width="1" height="22" fill="#c0c0c0"/><rect x="1218" y="548" width="1" height="21" fill="#c0c0c0"/><rect x="1226" y="548" width="1" height="21" fill="#c0c0c0"/><rect x="1234" y="548" width="1" height="19" fill="#c0c0c0"/><rect x="1242" y="548" width="1" height="17" fill="#c0c0c0"/><rect x="1250" y="548" width="1" height="17" fill="#c0c0c0"/><rect x="1258" y="548" width="1" height="15" fill="#c0c0c0"/><rect x="1266" y="548" width="1" height="14" fill="#c0c0c0"/><rect x="1274" y="548" width="1" height="14" fill="#c0c0c0"/><rect x="1282" y="548" width="1" height="14" fill="#c0c0c0"/><rect x="1290" y="548" width="1" height="15" fill="#c0c0c0"/><rect x="1298" y="548" width="1" height="15" fill="#c0c0c0"/><rect x="1306" y="548" width="1" height="14" fill="#c0c0c0"/><rect x="1314" y="548" width="1" height="14" fill="#c0c0c0"/><rect x="1322" y="548" width="1" height="13" fill="#c0c0c0"/><rect x="1330" y="548" width="1" height="14" fill="#c0c0c0"/><rect x="1338" y="548" width="1" height="15" fill="#c0c0c0"/><rect x="1346" y="548" width="1" height="15" fill="#c0c0c0"/><rect x="1354" y="548" width="1" height="14" fill="#c0c0c0"/><rect x="1362" y="548" width="1" height="13" fill="#c0c0c0"/><rect x="1370" y="548" width="1" height="12" fill="#c0c0c0"/><rect x="1378" y="548" width="1" height="11" fill="#c0c0c0"/><rect x="1386" y="548" width="1" height="10" fill="#c0c0c0"/><rect x="1394" y="548" width="1" height="8" fill="#c0c0c0"/><rect x="1402" y="548" width="1" height="7" fill="#c0c0c0"/><rect x="1410" y="548" width="1" height="7" fill="#c0c0c0"/><rect x="1418" y="548" width="1" height="6" fill="#c0c0c0"/><rect x="1426" y="548" width="1" height="6" fill="#c0c0c0"/><rect x="1434" y="548" width="1" height="5" fill="#c0c0c0"/><rect x="1442" y="548" width="1" height="5" fill="#c0c0c0"/><rect x="1450" y="548" width="1" height="5" fill="#c0c0c0"/><rect x="1458" y="548" width="1" height="5" fill="#c0c0c0"/><rect x="1466" y="548" width="1" height="6" fill="#c0c0c0"/>
<polyline points="9.0,547.5 10.0,547.5 11.0,547.5 12.0,546.5 13.0,546.5 14.0,546.5 15.0,546.5 16.0,546.5 17.0,546.5 18.0,546.5 19.0,546.5 20.0,546.5 21.0,546.5 22.0,546.5 23.0,546.5 24.0,545.5 25.0,545.5 26.0,545.5 27.0,545.5 28.0,545.5 29.0,545.5 30.0,545.5 31.0,545.5 32.0,545.5 33.0,545.5 34.0,545.5 35.0,545.5 36.0,544.5 37.0,544.5 38.0,544.5 39.0,544.5 40.0,544.5 41.0,544.5 42.0,544.5 43.0,544.5 44.0,544.5 45.0,544.5 46.0,544.5 47.0,544.5 48.0,543.5 49.0,543.5 50.0,543.5 51.0,543.5 52.0,543.5 53.0,543.5 54.0,543.5 55.0,543.5 56.0,543.5 57.0,543.5 58.0,543.5 59.0,543.5 60.0,542.5 61.0,542.5 62.0,542.5 63.0,542.5 64.0,542.5 65.0,542.5 66.0,542.5 67.0,542.5 68.0,542.5 69.0,542.5 70.0,542.5 71.0,542.5 72.0,542.5 73.0,542.5 74.0,542.5 75.0,542.5 76.0,542.5 77.0,541.5 78.0,541.5 79.0,541.5 80.0,541.5 81.0,541.5 82.0,541.5 83.0,541.5 84.0,541.5 85.0,541.5 86.0,541.5 87.0,541.5 88.0,541.5 89.0,541.5 90.0,541.5 91.0,541.5 92.0,541.5 93.0,541.5 94.0,541.5 95.0,541.5 96.0,541.5 97.0,541.5 98.0,541.5 99.0,541.5 100.0,541.5 101.0,541.5 102.0,541.5 103.0,541.5 104.0,541.5 105.0,541.5 106.0,541.5 107.0,541.5 108.0,541.5 109.0,541.5 110.0,541.5 111.0,541.5 112.0,541.5 113.0,541.5 114.0,541.5 115.0,541.5 116.0,541.5 117.0,541.5 118.0,541.5 119.0,541.5 120.0,541.5 121.0,541.5 122.0,541.5 123.0,541.5 124.0,541.5 125.0,541.5 126.0,541.5 127.0,541.5 128.0,541.5 129.0,541.5 130.0,541.5 131.0,541.5 132.0,541.5 133.0,541.5 134.0,541.5 135.0,541.5 136.0,541.5 137.0,541.5 138.0,541.5 139.0,541.5 140.0,541.5 141.0,541.5 142.0,541.5 143.0,541.5 144.0,541.5 145.0,541.5 146.0,541.5 147.0,541.5 148.0,541.5 149.0,541.5 150.0,541.5 151.0,541.5 152.0,541.5 153.0,541.5 154.0,541.5 155.0,541.5 156.0,541.5 157.0,541.5 158.0,541.5 159.0,541.5 160.0,541.5 161.0,541.5 162.0,541.5 163.0,541.5 164.0,541.5 165.0,541.5 166.0,541.5 167.0,541.5 168.0,541.5 169.0,541.5 170.0,541.5 171.0,541.5 172.0,541.5 173.0,541.5 174.0,541.5 175.0,541.5 176.0,541.5 177.0,541.5 178.0,541.5 179.0,541.5 180.0,541.5 181.0,541.5 182.0,541.5 183.0,541.5 184.0,541.5 185.0,541.5 186.0,541.5 187.0,541.5 188.0,541.5 189.0,541.5 190.0,541.5 191.0,541.5 192.0,541.5 193.0,541.5 194.0,541.5 195.0,541.5 196.0,541.5 197.0,541.5 198.0,541.5 199.0,541.5 200.0,541.5 201.0,541.5 202.0,541.5 203.0,541.5 204.0,541.5 205.0,541.5 206.0,541.5 207.0,541.5 208.0,541.5 209.0,541.5 210.0,541.5 211.0,541.5 212.0,541.5 213.0,541.5 214.0,541.5 215.0,541.5 216.0,541.5 217.0,541.5 218.0,541.5 219.0,541.5 220.0,541.5 221.0,541.5 222.0,541.5 223.0,541.5 224.0,541.5 225.0,541.5 226.0,541.5 227.0,541.5 228.0,541.5 229.0,541.5 230.0,541.5 231.0,541.5 232.0,541.5 233.0,541.5 234.0,541.5 235.0,541.5 236.0,540.5 237.0,540.5 238.0,540.5 239.0,540.5 240.0,540.5 241.0,540.5 242.0,540.5 243.0,540.5 244.0,540.5 245.0,540.5 246.0,540.5 247.0,539.5 248.0,539.5 249.0,539.5 250.0,539.5 251.0,539.5 252.0,539.5 253.0,539.5 254.0,539.5 255.0,539.5 256.0,539.5 257.0,538.5 258.0,538.5 259.0,538.5 260.0,538.5 261.0,538.5 262.0,538.5 263.0,538.5 264.0,538.5 265.0,538.5 266.0,538.5 267.0,538.5 268.0,537.5 269.0,537.5 270.0,537.5 271.0,537.5 272.0,537.5 273.0,537.5 274.0,537.5 275.0,537.5 276.0,537.5 277.0,537.5 278.0,537.5 279.0,536.5 280.0,536.5 281.0,536.5 282.0,536.5 283.0,536.5 284.0,536.5 285.0,536.5 286.0,536.5 287.0,536.5 288.0,536.5 289.0,535.5 290.0,535.5 291.0,535.5 292.0,535.5 293.0,535.5 294.0,535.5 295.0,535.5 296.0,535.5 297.0,535.5 298.0,535.5 299.0,535.5 300.0,534.5 301.0,534.5 302.0,534.5 303.0,534.5 304.0,534.5 305.0,534.5 306.0,534.5 307.0,534.5 308.0,534.5 309.0,534.5 310.0,534.5 311.0,534.5 312.0,534.5 313.0,534.5 314.0,534.5 315.0,534.5 316.0,534.5 317.0,534.5 318.0,534.5 319.0,534.5 320.0,534.5 321.0,534.5 322.0,534.5 323.0,534.5 324.0,534.5 325.0,534.5 326.0,534.5 327.0,534.5 328.0,534.5 329.0,534.5 330.0,534.5 331.0,534.5 332.0,534.5 333.0,534.5 334.0,534.5 335.0,534.5 336.0,534.5 337.0,534.5 338.0,534.5 339.0,534.5 340.0,534.5 341.0,534.5 342.0,534.5 343.0,534.5 344.0,534.5 345.0,534.5 346.0,534.5 347.0,534.5 348.0,534.5 349.0,534.5 350.0,534.5 351.0,534.5 352.0,534.5 353.0,534.5 354.0,534.5 355.0,534.5 356.0,534.5 357.0,534.5 358.0,534.5 359.0,534.5 360.0,534.5 361.0,534.5 362.0,534.5 363.0,534.5 364.0,534.5 365.0,534.5 366.0,534.5 367.0,534.5 368.0,534.5 369.0,534.5 370.0,534.5 371.0,534.5 372.0,534.5 373.0,534.5 374.0,534.5 375.0,534.5 376.0,534.5 377.0,534.5 378.0,534.5 379.0,534.5 380.0,534.5 381.0,534.5 382.0,534.5 383.0,534.5 384.0,534.5 385.0,533.5 386.0,533.5 387.0,533.5 388.0,533.5 389.0,533.5 390.0,532.5 391.0,532.5 392.0,532.5 393.0,532.5 394.0,532.5 395.0,532.5 396.0,531.5 397.0,531.5 398.0,531.5 399.0,531.5 400.0,531.5 401.0,531.5 402.0,530.5 403.0,530.5 404.0,530.5 405.0,530.5 406.0,530.5 407.0,530.5 408.0,529.5 409.0,529.5 410.0,529.5 411.0,529.5 412.0,529.5 413.0,528.5 414.0,528.5 415.0,528.5 416.0,528.5 417.0,528.5 418.0,528.5 419.0,527.5 420.0,527.5 421.0,527.5 422.0,527.5 423.0,527.5 424.0,527.5 425.0,526.5 426.0,526.5 427.0,526.5 428.0,526.5 429.0,526.5 430.0,526.5 431.0,525.5 432.0,525.5 433.0,525.5 434.0,525.5 435.0,524.5 436.0,524.5 437.0,524.5 438.0,524.5 439.0,524.5 440.0,524.5 441.0,523.5 442.0,523.5 443.0,523.5 444.0,523.5 445.0,522.5 446.0,522.5 447.0,522.5 448.0,522.5 449.0,522.5 450.0,522.5 451.0,522.5 452.0,522.5 453.0,522.5 454.0,522.5 455.0,522.5 456.0,522.5 457.0,522.5 458.0,522.5 459.0,522.5 460.0,522.5 461.0,522.5 462.0,521.5 463.0,521.5 464.0,521.5 465.0,521.5 466.0,521.5 467.0,521.5 468.0,521.5 469.0,521.5 470.0,521.5 471.0,521.5 472.0,521.5 473.0,521.5 474.0,521.5 475.0,521.5 476.0,521.5 477.0,521.5 478.0,521.5 479.0,521.5 480.0,521.5 481.0,521.5 482.0,521.5 483.0,521.5 484.0,521.5 485.0,521.5 486.0,521.5 487.0,521.5 488.0,521.5 489.0,521.5 490.0,521.5 491.0,521.5 492.0,521.5 493.0,521.5 494.0,521.5 495.0,521.5 496.0,521.5 497.0,521.5 498.0,521.5 499.0,521.5 500.0,521.5 501.0,521.5 502.0,521.5 503.0,521.5 504.0,521.5 505.0,521.5 506.0,521.5 507.0,521.5 508.0,521.5 509.0,521.5 510.0,521.5 511.0,521.5 512.0,521.5 513.0,521.5 514.0,521.5 515.0,521.5 516.0,521.5 517.0,521.5 518.0,521.5 519.0,521.5 520.0,521.5 521.0,521.5 522.0,521.5 523.0,521.5 524.0,521.5 525.0,521.5 526.0,521.5 527.0,522.5 528.0,522.5 529.0,522.5 530.0,522.5 531.0,522.5 532.0,522.5 533.0,522.5 534.0,523.5 535.0,523.5 536.0,523.5 537.0,523.5 538.0,523.5 539.0,523.5 540.0,524.5 541.0,524.5 542.0,524.5 543.0,524.5 544.0,524.5 545.0,524.5 546.0,524.5 547.0,525.5 548.0,525.5 549.0,525.5 550.0,525.5 551.0,525.5 552.0,525.5 553.0,526.5 554.0,526.5 555.0,526.5 556.0,526.5 557.0,526.5 558.0,526.5 559.0,526.5 560.0,527.5 561.0,527.5 562.0,527.5 563.0,527.5 564.0,527.5 565.0,528.5 566.0,528.5 567.0,528.5 568.0,528.5 569.0,528.5 570.0,528.5 571.0,528.5 572.0,529.5 573.0,529.5 574.0,529.5 575.0,529.5 576.0,529.5 577.0,530.5 578.0,530.5 579.0,530.5 580.0,530.5 581.0,530.5 582.0,530.5 583.0,531.5 584.0,531.5 585.0,531.5 586.0,532.5 587.0,532.5 588.0,532.5 589.0,532.5 590.0,532.5 591.0,533.5 592.0,533.5 593.0,533.5 594.0,534.5 595.0,534.5 596.0,534.5 597.0,534.5 598.0,534.5 599.0,535.5 600.0,535.5 601.0,535.5 602.0,535.5 603.0,535.5 604.0,535.5 605.0,536.5 606.0,536.5 607.0,536.5 608.0,536.5 609.0,536.5 610.0,536.5 611.0,536.5 612.0,536.5 613.0,537.5 614.0,537.5 615.0,537.5 616.0,537.5 617.0,537.5 618.0,537.5 619.0,537.5 620.0,537.5 621.0,538.5 622.0,538.5 623.0,538.5 624.0,538.5 625.0,538.5 626.0,538.5 627.0,538.5 628.0,538.5 629.0,538.5 630.0,538.5 631.0,538.5 632.0,538.5 633.0,538.5 634.0,539.5 635.0,539.5 636.0,539.5 637.0,539.5 638.0,539.5 639.0,539.5 640.0,539.5 641.0,539.5 642.0,539.5 643.0,539.5 644.0,539.5 645.0,539.5 646.0,539.5 647.0,539.5 648.0,539.5 649.0,539.5 650.0,539.5 651.0,539.5 652.0,539.5 653.0,539.5 654.0,539.5 655.0,539.5 656.0,539.5 657.0,539.5 658.0,539.5 659.0,539.5 660.0,538.5 661.0,538.5 662.0,538.5 663.0,538.5 664.0,538.5 665.0,538.5 666.0,538.5 667.0,538.5 668.0,538.5 669.0,538.5 670.0,538.5 671.0,538.5 672.0,538.5 673.0,538.5 674.0,538.5 675.0,538.5 676.0,538.5 677.0,538.5 678.0,538.5 679.0,538.5 680.0,538.5 681.0,538.5 682.0,538.5 683.0,538.5 684.0,538.5 685.0,538.5 686.0,538.5 687.0,538.5 688.0,538.5 689.0,538.5 690.0,538.5 691.0,538.5 692.0,538.5 693.0,538.5 694.0,538.5 695.0,538.5 696.0,538.5 697.0,538.5 698.0,538.5 699.0,538.5 700.0,538.5 701.0,538.5 702.0,538.5 703.0,538.5 704.0,538.5 705.0,538.5 706.0,538.5 707.0,538.5 708.0,538.5 709.0,538.5 710.0,538.5 711.0,538.5 712.0,538.5 713.0,538.5 714.0,538.5 715.0,538.5 716.0,538.5 717.0,538.5 718.0,538.5 719.0,539.5 720.0,539.5 721.0,539.5 722.0,539.5 723.0,539.5 724.0,539.5 725.0,539.5 726.0,540.5 727.0,540.5 728.0,540.5 729.0,540.5 730.0,540.5 731.0,540.5 732.0,540.5 733.0,541.5 734.0,541.5 735.0,541.5 736.0,541.5 737.0,541.5 738.0,541.5 739.0,542.5 740.0,542.5 741.0,542.5 742.0,542.5 743.0,542.5 744.0,542.5 745.0,542.5 746.0,542.5 747.0,543.5 748.0,543.5 749.0,543.5 750.0,543.5 751.0,543.5 752.0,543.5 753.0,543.5 754.0,543.5 755.0,543.5 756.0,544.5 757.0,544.5 758.0,544.5 759.0,544.5 760.0,544.5 761.0,544.5 762.0,544.5 763.0,544.5 764.0,544.5 765.0,544.5 766.0,545.5 767.0,545.5 768.0,545.5 769.0,545.5 770.0,545.5 771.0,545.5 772.0,545.5 773.0,546.5 774.0,546.5 775.0,546.5 776.0,546.5 777.0,546.5 778.0,546.5 779.0,546.5 780.0,546.5 781.0,546.5 782.0,546.5 783.0,546.5 784.0,546.5 785.0,546.5 786.0,546.5 787.0,546.5 788.0,546.5 789.0,546.5 790.0,546.5 791.0,546.5 792.0,546.5 793.0,546.5 794.0,546.5 795.0,546.5 796.0,545.5 797.0,545.5 798.0,545.5 799.0,545.5 800.0,545.5 801.0,545.5 802.0,545.5 803.0,544.5 804.0,544.5 805.0,544.5 806.0,544.5 807.0,544.5 808.0,544.5 809.0,544.5 810.0,543.5 811.0,543.5 812.0,543.5 813.0,543.5 814.0,543.5 815.0,543.5 816.0,543.5 817.0,542.5 818.0,542.5 819.0,542.5 820.0,542.5 821.0,542.5 822.0,542.5 823.0,542.5 824.0,541.5 825.0,541.5 826.0,541.5 827.0,541.5 828.0,540.5 829.0,540.5 830.0,540.5 831.0,539.5 832.0,539.5 833.0,539.5 834.0,538.5 835.0,538.5 836.0,538.5 837.0,537.5 838.0,537.5 839.0,537.5 840.0,536.5 841.0,536.5 842.0,536.5 843.0,535.5 844.0,535.5 845.0,535.5 846.0,535.5 847.0,535.5 848.0,535.5 849.0,535.5 850.0,534.5 851.0,534.5 852.0,534.5 853.0,534.5 854.0,534.5 855.0,534.5 856.0,534.5 857.0,533.5 858.0,533.5 859.0,533.5 860.0,533.5 861.0,533.5 862.0,532.5 863.0,532.5 864.0,532.5 865.0,532.5 866.0,532.5 867.0,532.5 868.0,532.5 869.0,532.5 870.0,531.5 871.0,531.5 872.0,531.5 873.0,531.5 874.0,531.5 875.0,531.5 876.0,531.5 877.0,530.5 878.0,530.5 879.0,530.5 880.0,530.5 881.0,530.5 882.0,530.5 883.0,530.5 884.0,530.5 885.0,530.5 886.0,529.5 887.0,529.5 888.0,529.5 889.0,529.5 890.0,529.5 891.0,529.5 892.0,529.5 893.0,529.5 894.0,529.5 895.0,529.5 896.0,529.5 897.0,529.5 898.0,529.5 899.0,529.5 900.0,529.5 901.0,529.5 902.0,529.5 903.0,529.5 904.0,529.5 905.0,529.5 906.0,529.5 907.0,529.5 908.0,529.5 909.0,529.5 910.0,529.5 911.0,529.5 912.0,529.5 913.0,529.5 914.0,529.5 915.0,529.5 916.0,529.5 917.0,529.5 918.0,529.5 919.0,530.5 920.0,530.5 921.0,530.5 922.0,530.5 923.0,530.5 924.0,530.5 925.0,530.5 926.0,531.5 927.0,531.5 928.0,531.5 929.0,531.5 930.0,531.5 931.0,531.5 932.0,532.5 933.0,532.5 934.0,532.5 935.0,532.5 936.0,532.5 937.0,532.5 938.0,532.5 939.0,532.5 940.0,533.5 941.0,533.5 942.0,533.5 943.0,533.5 944.0,533.5 945.0,533.5 946.0,533.5 947.0,533.5 948.0,534.5 949.0,534.5 950.0,534.5 951.0,534.5 952.0,534.5 953.0,534.5 954.0,534.5 955.0,534.5 956.0,535.5 957.0,535.5 958.0,535.5 959.0,535.5 960.0,535.5 961.0,535.5 962.0,535.5 963.0,535.5 964.0,535.5 965.0,536.5 966.0,536.5 967.0,536.5 968.0,536.5 969.0,536.5 970.0,536.5 971.0,536.5 972.0,536.5 973.0,536.5 974.0,536.5 975.0,536.5 976.0,537.5 977.0,537.5 978.0,537.5 979.0,537.5 980.0,537.5 981.0,537.5 982.0,537.5 983.0,537.5 984.0,537.5 985.0,537.5 986.0,537.5 987.0,537.5 988.0,537.5 989.0,537.5 990.0,537.5 991.0,537.5 992.0,537.5 993.0,537.5 994.0,537.5 995.0,537.5 996.0,537.5 997.0,537.5 998.0,537.5 999.0,537.5 1000.0,537.5 1001.0,537.5 1002.0,537.5 1003.0,538.5 1004.0,538.5 1005.0,538.5 1006.0,538.5 1007.0,538.5 1008.0,538.5 1009.0,538.5 1010.0,538.5 1011.0,538.5 1012.0,538.5 1013.0,538.5 1014.0,538.5 1015.0,538.5 1016.0,538.5 1017.0,538.5 1018.0,538.5 1019.0,538.5 1020.0,538.5 1021.0,538.5 1022.0,538.5 1023.0,538.5 1024.0,538.5 1025.0,538.5 1026.0,538.5 1027.0,538.5 1028.0,538.5 1029.0,538.5 1030.0,538.5 1031.0,538.5 1032.0,539.5 1033.0,539.5 1034.0,539.5 1035.0,539.5 1036.0,539.5 1037.0,539.5 1038.0,539.5 1039.0,539.5 1040.0,539.5 1041.0,539.5 1042.0,539.5 1043.0,539.5 1044.0,540.5 1045.0,540.5 1046.0,540.5 1047.0,540.5 1048.0,540.5 1049.0,540.5 1050.0,540.5 1051.0,540.5 1052.0,540.5 1053.0,540.5 1054.0,540.5 1055.0,541.5 1056.0,541.5 1057.0,541.5 1058.0,541.5 1059.0,541.5 1060.0,541.5 1061.0,541.5 1062.0,541.5 1063.0,542.5 1064.0,542.5 1065.0,542.5 1066.0,542.5 1067.0,542.5 1068.0,542.5 1069.0,542.5 1070.0,542.5 1071.0,543.5 1072.0,543.5 1073.0,543.5 1074.0,543.5 1075.0,543.5 1076.0,543.5 1077.0,543.5 1078.0,543.5 1079.0,544.5 1080.0,544.5 1081.0,544.5 1082.0,544.5 1083.0,544.5 1084.0,544.5 1085.0,545.5 1086.0,545.5 1087.0,545.5 1088.0,545.5 1089.0,545.5 1090.0,545.5 1091.0,546.5 1092.0,546.5 1093.0,546.5 1094.0,546.5 1095.0,546.5 1096.0,546.5 1097.0,547.5 1098.0,547.5 1099.0,547.5 1100.0,547.5 1101.0,547.5 1102.0,547.5 1103.0,548.5 1104.0,548.5 1105.0,548.5 1106.0,548.5 1107.0,548.5 1108.0,549.5 1109.0,549.5 1110.0,549.5 1111.0,549.5 1112.0,549.5 1113.0,550.5 1114.0,550.5 1115.0,550.5 1116.0,550.5 1117.0,550.5 1118.0,551.5 1119.0,551.5 1120.0,551.5 1121.0,551.5 1122.0,551.5 1123.0,552.5 1124.0,552.5 1125.0,552.5 1126.0,552.5 1127.0,552.5 1128.0,553.5 1129.0,553.5 1130.0,553.5 1131.0,553.5 1132.0,554.5 1133.0,554.5 1134.0,554.5 1135.0,554.5 1136.0,555.5 1137.0,555.5 1138.0,555.5 1139.0,555.5 1140.0,556.5 1141.0,556.5 1142.0,556.5 1143.0,556.5 1144.0,557.5 1145.0,557.5 1146.0,557.5 1147.0,557.5 1148.0,558.5 1149.0,558.5 1150.0,558.5 1151.0,558.5 1152.0,558.5 1153.0,559.5 1154.0,559.5 1155.0,559.5 1156.0,560.5 1157.0,560.5 1158.0,560.5 1159.0,560.5 1160.0,560.5 1161.0,561.5 1162.0,561.5 1163.0,561.5 1164.0,562.5 1165.0,562.5 1166.0,562.5 1167.0,562.5 1168.0,562.5 1169.0,563.5 1170.0,563.5 1171.0,563.5 1172.0,564.5 1173.0,564.5 1174.0,564.5 1175.0,564.5 1176.0,564.5 1177.0,565.5 1178.0,565.5 1179.0,565.5 1180.0,565.5 1181.0,566.5 1182.0,566.5 1183.0,566.5 1184.0,566.5 1185.0,566.5 1186.0,567.5 1187.0,567.5 1188.0,567.5 1189.0,567.5 1190.0,567.5 1191.0,568.5 1192.0,568.5 1193.0,568.5 1194.0,568.5 1195.0,568.5 1196.0,569.5 1197.0,569.5 1198.0,569.5 1199.0,569.5 1200.0,570.5 1201.0,570.5 1202.0,570.5 1203.0,570.5 1204.0,570.5 1205.0,570.5 1206.0,570.5 1207.0,570.5 1208.0,570.5 1209.0,570.5 1210.0,570.5 1211.0,570.5 1212.0,570.5 1213.0,570.5 1214.0,570.5 1215.0,570.5 1216.0,570.5 1217.0,570.5 1218.0,570.5 1219.0,570.5 1220.0,570.5 1221.0,570.5 1222.0,570.5 1223.0,570.5 1224.0,570.5 1225.0,570.5 1226.0,570.5 1227.0,570.5 1228.0,570.5 1229.0,570.5 1230.0,570.5 1231.0,570.5 1232.0,570.5 1233.0,570.5 1234.0,570.5 1235.0,570.5 1236.0,570.5 1237.0,570.5 1238.0,570.5 1239.0,570.5 1240.0,569.5 1241.0,569.5 1242.0,569.5 1243.0,569.5 1244.0,569.5 1245.0,569.5 1246.0,569.5 1247.0,569.5 1248.0,569.5 1249.0,569.5 1250.0,569.5 1251.0,569.5 1252.0,568.5 1253.0,568.5 1254.0,568.5 1255.0,568.5 1256.0,568.5 1257.0,567.5 1258.0,567.5 1259.0,567.5 1260.0,567.5 1261.0,567.5 1262.0,566.5 1263.0,566.5 1264.0,566.5 1265.0,566.5 1266.0,566.5 1267.0,566.5 1268.0,565.5 1269.0,565.5 1270.0,565.5 1271.0,565.5 1272.0,565.5 1273.0,565.5 1274.0,565.5 1275.0,565.5 1276.0,565.5 1277.0,564.5 1278.0,564.5 1279.0,564.5 1280.0,564.5 1281.0,564.5 1282.0,564.5 1283.0,564.5 1284.0,564.5 1285.0,564.5 1286.0,564.5 1287.0,564.5 1288.0,564.5 1289.0,563.5 1290.0,563.5 1291.0,563.5 1292.0,563.5 1293.0,563.5 1294.0,563.5 1295.0,563.5 1296.0,563.5 1297.0,563.5 1298.0,563.5 1299.0,563.5 1300.0,563.5 1301.0,563.5 1302.0,563.5 1303.0,563.5 1304.0,563.5 1305.0,563.5 1306.0,563.5 1307.0,563.5 1308.0,563.5 1309.0,563.5 1310.0,563.5 1311.0,563.5 1312.0,563.5 1313.0,563.5 1314.0,563.5 1315.0,563.5 1316.0,563.5 1317.0,563.5 1318.0,563.5 1319.0,563.5 1320.0,563.5 1321.0,563.5 1322.0,563.5 1323.0,563.5 1324.0,563.5 1325.0,563.5 1326.0,563.5 1327.0,563.5 1328.0,563.5 1329.0,563.5 1330.0,563.5 1331.0,563.5 1332.0,563.5 1333.0,563.5 1334.0,563.5 1335.0,563.5 1336.0,563.5 1337.0,563.5 1338.0,563.5 1339.0,563.5 1340.0,563.5 1341.0,563.5 1342.0,563.5 1343.0,563.5 1344.0,563.5 1345.0,562.5 1346.0,562.5 1347.0,562.5 1348.0,562.5 1349.0,562.5 1350.0,562.5 1351.0,561.5 1352.0,561.5 1353.0,561.5 1354.0,561.5 1355.0,561.5 1356.0,561.5 1357.0,561.5 1358.0,561.5 1359.0,561.5 1360.0,561.5 1361.0,561.5 1362.0,561.5 1363.0,561.5 1364.0,561.5 1365.0,561.5 1366.0,561.5 1367.0,561.5 1368.0,561.5 1369.0,561.5 1370.0,561.5 1371.0,561.5 1372.0,561.5 1373.0,561.5 1374.0,561.5 1375.0,561.5 1376.0,561.5 1377.0,561.5 1378.0,561.5 1379.0,561.5 1380.0,561.5 1381.0,561.5 1382.0,561.5 1383.0,561.5 1384.0,561.5 1385.0,561.5 1386.0,561.5 1387.0,561.5 1388.0,561.5 1389.0,561.5 1390.0,561.5 1391.0,561.5 1392.0,561.5 1393.0,561.5 1394.0,561.5 1395.0,560.5 1396.0,560.5 1397.0,560.5 1398.0,560.5 1399.0,560.5 1400.0,560.5 1401.0,559.5 1402.0,559.5 1403.0,559.5 1404.0,559.5 1405.0,558.5 1406.0,558.5 1407.0,558.5 1408.0,558.5 1409.0,558.5 1410.0,558.5 1411.0,557.5 1412.0,557.5 1413.0,557.5 1414.0,557.5 1415.0,557.5 1416.0,557.5 1417.0,557.5 1418.0,557.5 1419.0,557.5 1420.0,557.5 1421.0,557.5 1422.0,557.5 1423.0,557.5 1424.0,556.5 1425.0,556.5 1426.0,556.5 1427.0,556.5 1428.0,556.5 1429.0,556.5 1430.0,556.5 1431.0,556.5 1432.0,556.5 1433.0,556.5 1434.0,556.5 1435.0,556.5 1436.0,556.5 1437.0,556.5 1438.0,556.5 1439.0,555.5 1440.0,555.5 1441.0,555.5 1442.0,555.5 1443.0,555.5 1444.0,555.5 1445.0,555.5 1446.0,555.5 1447.0,555.5 1448.0,555.5 1449.0,555.5 1450.0,555.5 1451.0,555.5 1452.0,555.5 1453.0,555.5 1454.0,555.5 1455.0,555.5 1456.0,555.5 1457.0,555.5 1458.0,555.5 1459.0,555.5 1460.0,554.5 1461.0,554.5 1462.0,554.5 1463.0,554.5 1464.0,554.5 1465.0,554.5 1466.0,554.5 1467.0,554.5" fill="none" stroke="#FF0000" stroke-width="1" stroke-dasharray="3 3"/>
<!-- RSI -->
<line x1="10" y1="615.5" x2="1659" y2="615.5" stroke="#c0c0c0" stroke-dasharray="3 3"/>
<line x1="10" y1="664.5" x2="1659" y2="664.5" stroke="#c0c0c0" stroke-dasharray="3 3"/>
<g><polyline points="10.0,624.2 18.0,626.2 26.0,625.0 34.2,621.2 42.2,631.2 50.5,625.0 58.0,621.2 66.0,618.2 73.5,620.0 82.2,627.0 90.5,631.2 98.5,631.2 106.0,634.5 114.2,629.2 122.2,628.0 130.5,623.2 138.0,624.2 146.0,620.2 154.8,628.2 162.5,627.5 170.5,624.2 178.5,624.2 186.5,632.5 195.0,627.0 203.0,625.0 211.0,620.0 219.2,614.5 226.8,611.2 234.2,608.8 242.2,605.5 250.0,607.5 258.0,603.8 266.8,600.0 274.2,603.2 282.2,602.0 290.5,612.0 298.5,621.2 306.8,613.8 314.2,610.5 322.2,609.2 330.5,613.2 338.5,613.2 346.8,612.0 354.2,610.5 362.2,615.8 370.5,617.5 378.5,606.2 386.8,598.0 394.8,593.2 403.0,605.8 411.0,611.2 419.2,611.2 427.2,615.0 435.0,615.0 442.5,616.5 451.2,615.0 458.8,610.0 466.8,603.2 475.0,617.5 482.5,616.2 490.0,615.0 498.8,614.2 506.2,613.2 515.0,619.2 522.5,620.5 530.5,638.2 538.0,640.5 546.2,635.8 554.2,634.2 562.5,627.5 570.5,632.5 578.8,635.5 586.2,636.2 594.2,637.5 602.5,639.5 610.5,629.2 618.2,633.2 626.8,625.8 634.5,622.0 642.5,625.5 650.0,627.0 658.2,632.2 666.2,628.0 674.5,626.2 682.5,630.5 690.5,635.2 698.2,629.2 706.5,642.0 714.2,643.2 722.5,645.0 730.5,647.5 738.2,643.0 746.2,644.2 754.2,642.0 762.2,645.5 770.5,626.8 778.8,625.2 786.8,617.2 794.5,615.8 802.5,616.2 811.2,618.5 818.8,617.0 826.8,613.0 834.5,611.2 842.0,609.2 850.5,614.2 858.0,616.2 866.2,612.0 874.2,615.0 882.5,618.2 890.5,616.2 898.5,631.2 906.8,631.5 914.8,637.2 922.5,634.2 930.5,629.2 938.5,639.5 946.8,630.0 955.0,625.2 962.5,628.2 970.5,627.2 978.8,628.2 986.8,629.2 995.0,628.0 1002.5,622.2 1010.8,641.2 1018.8,639.2 1026.8,638.2 1035.0,640.5 1042.5,644.2 1050.8,638.2 1058.8,642.0 1067.0,649.2 1075.0,652.5 1082.5,655.5 1090.8,650.2 1098.8,651.2 1106.8,651.2 1114.5,651.2 1122.5,671.2 1130.5,672.5 1138.8,664.2 1146.8,663.8 1155.0,664.2 1163.0,668.2 1171.2,672.2 1179.2,670.2 1187.0,660.2 1195.0,652.2 1203.0,656.2 1210.8,657.5 1218.8,656.2 1226.8,658.2 1235.0,651.2 1243.0,646.2 1250.8,649.2 1258.8,647.2 1266.8,655.2 1275.0,656.2 1282.5,659.2 1290.5,659.2 1298.8,646.2 1306.8,650.0 1315.0,650.0 1323.0,651.8 1331.0,656.2 1339.2,658.2 1347.2,657.0 1355.0,655.2 1362.5,656.2 1370.8,647.5 1378.8,640.2 1386.8,643.2 1394.5,644.2 1402.5,643.2 1410.5,650.2 1418.8,643.0 1426.8,644.2 1435.0,647.5 1442.5,646.2 1450.5,643.0 1458.8,649.2 1465.8,648.2" fill="none" stroke="#1E90FF" stroke-width="1" /></g>

<rect x="9.5" y="35.5" width="1650" height="479" fill="none" stroke="#000"/>
<rect x="9.5" y="516.5" width="1650" height="58" fill="none" stroke="#000"/>
<rect x="9.5" y="577.5" width="1650" height="123" fill="none" stroke="#000"/>

<rect x="10" y="136" width="4" height="4" fill="#fff" stroke="#FF0000" stroke-width="2"/><rect x="1654" y="136" width="4" height="4" fill="#fff" stroke="#FF0000" stroke-width="2"/><rect x="10" y="172" width="4" height="4" fill="#fff" stroke="#FF4500" stroke-width="2"/><rect x="1654" y="172" width="4" height="4" fill="#fff" stroke="#FF4500" stroke-width="2"/><rect x="1659" y="255" width="2" height="2" fill="#00FF7F"/><rect x="1659" y="321" width="2" height="2" fill="#0000FF"/><rect x="1659" y="396" width="2" height="2" fill="#0000FF"/>
<rect x="1659" y="295" width="2" height="1" fill="#c0c0c0"/>
<!-- axis -->
<rect x="1660" y="518" width="1" height="1" fill="#000"/><rect x="1660" y="548" width="1" height="1" fill="#000"/><rect x="1660" y="574" width="1" height="1" fill="#000"/><rect x="1660" y="579" width="1" height="1" fill="#000"/>
<rect x="1660" y="615" width="1" height="1" fill="#000"/><rect x="1660" y="664" width="1" height="1" fill="#000"/><rect x="1660" y="698" width="1" height="1" fill="#000"/>
<rect x="1660" y="54" width="2" height="1" fill="#000"/><text x="1666" y="58.5" font-size="12.5" fill="#000" stroke="#000" stroke-width="0.25" text-anchor="start" font-weight="normal" >4145.0</text><rect x="1660" y="103" width="2" height="1" fill="#000"/><text x="1666" y="107.5" font-size="12.5" fill="#000" stroke="#000" stroke-width="0.25" text-anchor="start" font-weight="normal" >4031.0</text><rect x="1660" y="152" width="2" height="1" fill="#000"/><text x="1666" y="156.5" font-size="12.5" fill="#000" stroke="#000" stroke-width="0.25" text-anchor="start" font-weight="normal" >3917.0</text><rect x="1660" y="201" width="2" height="1" fill="#000"/><text x="1666" y="205.5" font-size="12.5" fill="#000" stroke="#000" stroke-width="0.25" text-anchor="start" font-weight="normal" >3805.0</text><rect x="1660" y="250" width="2" height="1" fill="#000"/><text x="1666" y="254.5" font-size="12.5" fill="#000" stroke="#000" stroke-width="0.25" text-anchor="start" font-weight="normal" >3691.0</text><rect x="1660" y="299" width="2" height="1" fill="#000"/><text x="1666" y="303.5" font-size="12.5" fill="#000" stroke="#000" stroke-width="0.25" text-anchor="start" font-weight="normal" >3577.0</text><rect x="1660" y="348" width="2" height="1" fill="#000"/><text x="1666" y="352.5" font-size="12.5" fill="#000" stroke="#000" stroke-width="0.25" text-anchor="start" font-weight="normal" >3463.0</text><rect x="1660" y="446" width="2" height="1" fill="#000"/><text x="1666" y="450.5" font-size="12.5" fill="#000" stroke="#000" stroke-width="0.25" text-anchor="start" font-weight="normal" >3235.0</text><rect x="1660" y="495" width="2" height="1" fill="#000"/><text x="1666" y="499.5" font-size="12.5" fill="#000" stroke="#000" stroke-width="0.25" text-anchor="start" font-weight="normal" >3121.0</text>
<rect x="1661" y="132" width="49" height="14" fill="#FF0000"/><text x="1666" y="143.5" font-size="12.5" fill="#fff" stroke="#fff" stroke-width="0.25" text-anchor="start" font-weight="normal" >3949.8</text><rect x="1661" y="168" width="49" height="14" fill="#FF4500"/><text x="1666" y="179.5" font-size="12.5" fill="#fff" stroke="#fff" stroke-width="0.25" text-anchor="start" font-weight="normal" >3866.8</text><rect x="1661" y="250" width="49" height="14" fill="#00FF7F"/><text x="1666" y="261.5" font-size="12.5" fill="#fff" stroke="#fff" stroke-width="0.25" text-anchor="start" font-weight="normal" >3676.5</text><rect x="1661" y="288" width="49" height="14" fill="#000000"/><text x="1666" y="299.5" font-size="12.5" fill="#fff" stroke="#fff" stroke-width="0.25" text-anchor="start" font-weight="normal" >3586.0</text><rect x="1661" y="316" width="49" height="14" fill="#0000FF"/><text x="1666" y="327.5" font-size="12.5" fill="#fff" stroke="#fff" stroke-width="0.25" text-anchor="start" font-weight="normal" >3524.5</text><rect x="1661" y="391" width="49" height="14" fill="#0000FF"/><text x="1666" y="402.5" font-size="12.5" fill="#fff" stroke="#fff" stroke-width="0.25" text-anchor="start" font-weight="normal" >3348.5</text>
<rect x="10" y="701" width="1" height="4" fill="#000"/><text x="9.2" y="717" font-size="12.45" fill="#000" stroke="#000" stroke-width="0.25" text-anchor="start" font-weight="normal" >15 Jan 2019</text><rect x="106" y="701" width="1" height="4" fill="#000"/><text x="105.2" y="717" font-size="12.45" fill="#000" stroke="#000" stroke-width="0.25" text-anchor="start" font-weight="normal" >23 Jan 05:00</text><rect x="202" y="701" width="1" height="4" fill="#000"/><text x="201.2" y="717" font-size="12.45" fill="#000" stroke="#000" stroke-width="0.25" text-anchor="start" font-weight="normal" >31 Jan 05:00</text><rect x="298" y="701" width="1" height="4" fill="#000"/><text x="297.2" y="717" font-size="12.45" fill="#000" stroke="#000" stroke-width="0.25" text-anchor="start" font-weight="normal" >15 Feb 05:00</text><rect x="394" y="701" width="1" height="4" fill="#000"/><text x="393.2" y="717" font-size="12.45" fill="#000" stroke="#000" stroke-width="0.25" text-anchor="start" font-weight="normal" >25 Feb 05:00</text><rect x="490" y="701" width="1" height="4" fill="#000"/><text x="489.2" y="717" font-size="12.45" fill="#000" stroke="#000" stroke-width="0.25" text-anchor="start" font-weight="normal" >5 Mar 05:00</text><rect x="586" y="701" width="1" height="4" fill="#000"/><text x="585.2" y="717" font-size="12.45" fill="#000" stroke="#000" stroke-width="0.25" text-anchor="start" font-weight="normal" >13 Mar 05:00</text><rect x="682" y="701" width="1" height="4" fill="#000"/><text x="681.2" y="717" font-size="12.45" fill="#000" stroke="#000" stroke-width="0.25" text-anchor="start" font-weight="normal" >21 Mar 05:00</text><rect x="778" y="701" width="1" height="4" fill="#000"/><text x="777.2" y="717" font-size="12.45" fill="#000" stroke="#000" stroke-width="0.25" text-anchor="start" font-weight="normal" >29 Mar 05:00</text><rect x="874" y="701" width="1" height="4" fill="#000"/><text x="873.2" y="717" font-size="12.45" fill="#000" stroke="#000" stroke-width="0.25" text-anchor="start" font-weight="normal" >9 Apr 05:00</text><rect x="970" y="701" width="1" height="4" fill="#000"/><text x="969.2" y="717" font-size="12.45" fill="#000" stroke="#000" stroke-width="0.25" text-anchor="start" font-weight="normal" >17 Apr 05:00</text><rect x="1066" y="701" width="1" height="4" fill="#000"/><text x="1065.2" y="717" font-size="12.45" fill="#000" stroke="#000" stroke-width="0.25" text-anchor="start" font-weight="normal" >25 Apr 05:00</text><rect x="1162" y="701" width="1" height="4" fill="#000"/><text x="1161.2" y="717" font-size="12.45" fill="#000" stroke="#000" stroke-width="0.25" text-anchor="start" font-weight="normal" >8 May 05:00</text><rect x="1258" y="701" width="1" height="4" fill="#000"/><text x="1257.2" y="717" font-size="12.45" fill="#000" stroke="#000" stroke-width="0.25" text-anchor="start" font-weight="normal" >16 May 05:00</text><rect x="1354" y="701" width="1" height="4" fill="#000"/><text x="1353.2" y="717" font-size="12.45" fill="#000" stroke="#000" stroke-width="0.25" text-anchor="start" font-weight="normal" >24 May 05:00</text><rect x="1450" y="701" width="1" height="4" fill="#000"/><text x="1449.2" y="717" font-size="12.45" fill="#000" stroke="#000" stroke-width="0.25" text-anchor="start" font-weight="normal" >3 Jun 05:00</text>
<text x="1663.5" y="530.5" font-size="12.5" fill="#000" stroke="#000" stroke-width="0.25" text-anchor="start" font-weight="normal" >124.3</text>
<text x="1663.5" y="552.5" font-size="12.5" fill="#000" stroke="#000" stroke-width="0.25" text-anchor="start" font-weight="normal" >0.00</text>
<text x="1663.5" y="572" font-size="12.5" fill="#000" stroke="#000" stroke-width="0.25" text-anchor="start" font-weight="normal" >-108.89</text>
<text x="1663.5" y="591" font-size="12.5" fill="#000" stroke="#000" stroke-width="0.25" text-anchor="start" font-weight="normal" >100</text>
<text x="1663.5" y="619.5" font-size="12.5" fill="#000" stroke="#000" stroke-width="0.25" text-anchor="start" font-weight="normal" >70</text>
<text x="1663.5" y="668.5" font-size="12.5" fill="#000" stroke="#000" stroke-width="0.25" text-anchor="start" font-weight="normal" >30</text>
<text x="1663.5" y="697.5" font-size="12.5" fill="#000" stroke="#000" stroke-width="0.25" text-anchor="start" font-weight="normal" >0</text>
<text x="14.25" y="532" font-size="12.5" fill="#000" stroke="#000" stroke-width="0.25" text-anchor="start" font-weight="normal" textLength="83.75" lengthAdjust="spacingAndGlyphs">MACD(12,26,9)</text><text x="103.75" y="532" font-size="12.5" fill="#000" stroke="#000" stroke-width="0.25" text-anchor="start" font-weight="normal" textLength="74.25" lengthAdjust="spacingAndGlyphs">-20.34 -23.31</text>
<text x="14" y="592.5" font-size="12.5" fill="#000" stroke="#000" stroke-width="0.25" text-anchor="start" font-weight="normal" >RSI(14) 43.0938</text>
<polygon points="1339,36 1350.4,36 1344.7,42.3" fill="#c0c0c0" shape-rendering="auto"/>
<!-- header -->
<polygon points="13,48 17.5,43 22,48" fill="#000" shape-rendering="auto"/>
<text x="28.5" y="50" font-size="12.5" fill="#000" stroke="#000" stroke-width="0.25" textLength="77.7" lengthAdjust="spacingAndGlyphs">CHINA300-,H4</text>
<text x="115.2" y="50" font-size="12.5" fill="#000" stroke="#000" stroke-width="0.25" textLength="167.3" lengthAdjust="spacingAndGlyphs">3580.7 3587.1 3565.8 3586.0</text>

<!-- one click trading panel -->
<defs>
<linearGradient id="gb" x1="0" y1="0" x2="0" y2="1"><stop offset="0" stop-color="#5252ff"/><stop offset="0.36" stop-color="#3a3ae0"/><stop offset="1" stop-color="#0000aa"/></linearGradient>
<linearGradient id="gs" x1="0" y1="0" x2="0" y2="1"><stop offset="0" stop-color="#f4f4f4"/><stop offset="0.3" stop-color="#ececec"/><stop offset="0.31" stop-color="#dcdcdc"/><stop offset="1" stop-color="#d0d0d0"/></linearGradient>
</defs>
<path d="M13,58 H81 V85 H154 V134 H13 Z" fill="url(#gb)"/>
<path d="M228,58 H296 V134 H156 V85 H228 Z" fill="url(#gb)"/>
<rect x="13" y="58" width="283" height="1" fill="#1010c8"/>
<rect x="13" y="58" width="1" height="76" fill="#1010c8"/>
<rect x="295" y="58" width="1" height="76" fill="#1010c8"/>
<rect x="81" y="58" width="147" height="1" fill="#fff"/>
<rect x="17" y="85" width="60" height="1" fill="#8a8af0"/>
<rect x="232" y="85" width="60" height="1" fill="#8a8af0"/>
<!-- spinner -->
<rect x="83.5" y="58.5" width="142" height="24" fill="#fff" stroke="#ababab"/>
<rect x="85" y="60" width="21" height="21" fill="url(#gs)"/>
<rect x="106" y="59" width="1" height="23" fill="#c8c8c8"/>
<rect x="203" y="60" width="21" height="21" fill="url(#gs)"/>
<rect x="202" y="59" width="1" height="23" fill="#c8c8c8"/>
<polygon points="92,69 99,69 95.5,73" fill="#5a6ac8" shape-rendering="auto"/>
<polygon points="210,72 217,72 213.5,68" fill="#5a6ac8" shape-rendering="auto"/>
<text x="197.5" y="76" font-size="15" fill="#000" stroke="#000" stroke-width="0.25" text-anchor="end" font-weight="normal" >1.00</text>
<text x="30.3" y="77" font-size="15" fill="#fff" stroke="#fff" stroke-width="0.25" text-anchor="start" font-weight="normal" textLength="32.5" lengthAdjust="spacingAndGlyphs">SELL</text>
<text x="247.7" y="77" font-size="15" fill="#fff" stroke="#fff" stroke-width="0.25" text-anchor="start" font-weight="normal" textLength="27.4" lengthAdjust="spacingAndGlyphs">BUY</text>
<text x="43.5" y="123" font-size="14" fill="#fff" stroke="#fff" stroke-width="0.25" text-anchor="start" font-weight="bold" letter-spacing="1.2">3584</text>
<text x="185.5" y="123" font-size="14" fill="#fff" stroke="#fff" stroke-width="0.25" text-anchor="start" font-weight="bold" letter-spacing="1.2">3590</text>
<rect x="84.8" y="118.3" width="5.6" height="4.8" fill="#fff" shape-rendering="auto"/>
<rect x="227.6" y="118.3" width="5.6" height="4.8" fill="#fff" shape-rendering="auto"/>
<text x="92.5" y="123" font-size="40" fill="#fff" stroke="#fff" stroke-width="0.25" text-anchor="start" font-weight="normal" >5</text>
<text x="235" y="123" font-size="40" fill="#fff" stroke="#fff" stroke-width="0.25" text-anchor="start" font-weight="normal" >1</text>
</svg>
<div id="note">多空转折点<span style="position:relative;top:-2px">3676.5</span></div>
</body></html>
